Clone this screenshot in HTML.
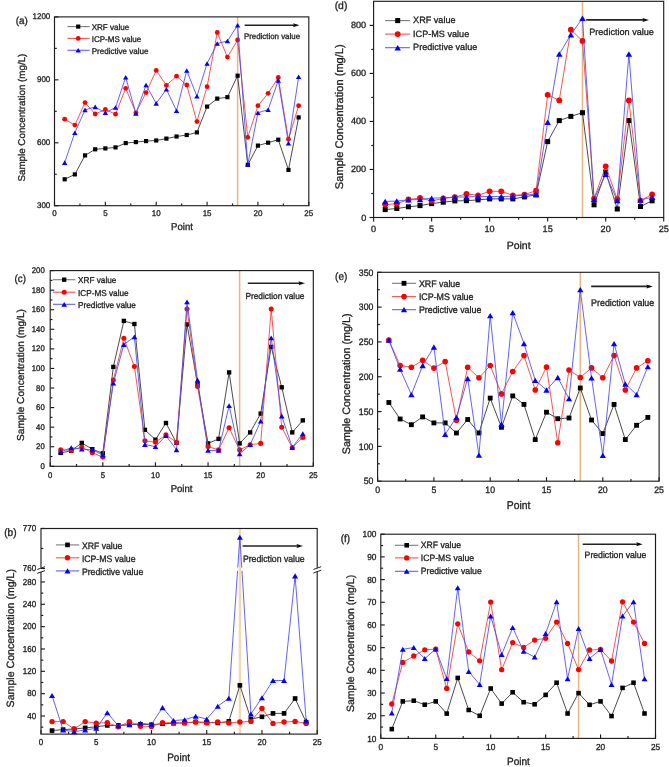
<!DOCTYPE html>
<html><head><meta charset="utf-8"><style>html,body{margin:0;padding:0;background:#fff;width:669px;height:767px;overflow:hidden}text{font-family:"Liberation Sans", sans-serif;text-rendering:geometricPrecision}</style></head>
<body>
<svg width="669" height="767" viewBox="0 0 669 767" style="position:absolute;left:0;top:0;font-family:&quot;Liberation Sans&quot;, sans-serif">
<defs><filter id="soft" x="0" y="0" width="669" height="767" filterUnits="userSpaceOnUse"><feGaussianBlur stdDeviation="0.35"/></filter></defs>
<rect width="669" height="767" fill="#fff"/>
<g filter="url(#soft)">
<line x1="237.6" y1="16.9" x2="237.6" y2="205.7" stroke="#e8b584" stroke-width="1.5"/>
<polyline points="64.67,179.3 74.84,174.4 85.02,155.4 95.19,149.3 105.36,148.4 115.53,147.4 125.7,143.1 135.88,142.1 146.05,141.1 156.22,140.5 166.39,138.6 176.56,136.5 186.74,135 196.91,132.4 207.08,106.6 217.25,98.6 227.42,97.2 237.6,75.7 247.77,164.8 257.94,145.6 268.11,142.7 278.28,139.7 288.46,169.9 298.63,117.4" fill="none" stroke="#2a2a2a" stroke-width="0.85" stroke-linejoin="round"/>
<rect x="62.58" y="177.21" width="4.18" height="4.18" fill="#000"/>
<rect x="72.75" y="172.31" width="4.18" height="4.18" fill="#000"/>
<rect x="82.93" y="153.31" width="4.18" height="4.18" fill="#000"/>
<rect x="93.1" y="147.21" width="4.18" height="4.18" fill="#000"/>
<rect x="103.27" y="146.31" width="4.18" height="4.18" fill="#000"/>
<rect x="113.44" y="145.31" width="4.18" height="4.18" fill="#000"/>
<rect x="123.61" y="141.01" width="4.18" height="4.18" fill="#000"/>
<rect x="133.79" y="140.01" width="4.18" height="4.18" fill="#000"/>
<rect x="143.96" y="139.01" width="4.18" height="4.18" fill="#000"/>
<rect x="154.13" y="138.41" width="4.18" height="4.18" fill="#000"/>
<rect x="164.3" y="136.51" width="4.18" height="4.18" fill="#000"/>
<rect x="174.47" y="134.41" width="4.18" height="4.18" fill="#000"/>
<rect x="184.65" y="132.91" width="4.18" height="4.18" fill="#000"/>
<rect x="194.82" y="130.31" width="4.18" height="4.18" fill="#000"/>
<rect x="204.99" y="104.51" width="4.18" height="4.18" fill="#000"/>
<rect x="215.16" y="96.51" width="4.18" height="4.18" fill="#000"/>
<rect x="225.33" y="95.11" width="4.18" height="4.18" fill="#000"/>
<rect x="235.51" y="73.61" width="4.18" height="4.18" fill="#000"/>
<rect x="245.68" y="162.71" width="4.18" height="4.18" fill="#000"/>
<rect x="255.85" y="143.51" width="4.18" height="4.18" fill="#000"/>
<rect x="266.02" y="140.61" width="4.18" height="4.18" fill="#000"/>
<rect x="276.19" y="137.61" width="4.18" height="4.18" fill="#000"/>
<rect x="286.37" y="167.81" width="4.18" height="4.18" fill="#000"/>
<rect x="296.54" y="115.31" width="4.18" height="4.18" fill="#000"/>
<polyline points="64.67,119.2 74.84,125.1 85.02,102.6 95.19,114 105.36,109.5 115.53,114.2 125.7,88.3 135.88,112.8 146.05,92.6 156.22,70.4 166.39,85.4 176.56,76.2 186.74,85 196.91,121.6 207.08,86.7 217.25,32.5 227.42,57.1 237.6,40 247.77,137.3 257.94,105.7 268.11,93.3 278.28,77.5 288.46,139.2 298.63,105.7" fill="none" stroke="#f03a3a" stroke-width="0.85" stroke-linejoin="round"/>
<circle cx="64.67" cy="119.2" r="2.42" fill="#f00"/>
<circle cx="74.84" cy="125.1" r="2.42" fill="#f00"/>
<circle cx="85.02" cy="102.6" r="2.42" fill="#f00"/>
<circle cx="95.19" cy="114" r="2.42" fill="#f00"/>
<circle cx="105.36" cy="109.5" r="2.42" fill="#f00"/>
<circle cx="115.53" cy="114.2" r="2.42" fill="#f00"/>
<circle cx="125.7" cy="88.3" r="2.42" fill="#f00"/>
<circle cx="135.88" cy="112.8" r="2.42" fill="#f00"/>
<circle cx="146.05" cy="92.6" r="2.42" fill="#f00"/>
<circle cx="156.22" cy="70.4" r="2.42" fill="#f00"/>
<circle cx="166.39" cy="85.4" r="2.42" fill="#f00"/>
<circle cx="176.56" cy="76.2" r="2.42" fill="#f00"/>
<circle cx="186.74" cy="85" r="2.42" fill="#f00"/>
<circle cx="196.91" cy="121.6" r="2.42" fill="#f00"/>
<circle cx="207.08" cy="86.7" r="2.42" fill="#f00"/>
<circle cx="217.25" cy="32.5" r="2.42" fill="#f00"/>
<circle cx="227.42" cy="57.1" r="2.42" fill="#f00"/>
<circle cx="237.6" cy="40" r="2.42" fill="#f00"/>
<circle cx="247.77" cy="137.3" r="2.42" fill="#f00"/>
<circle cx="257.94" cy="105.7" r="2.42" fill="#f00"/>
<circle cx="268.11" cy="93.3" r="2.42" fill="#f00"/>
<circle cx="278.28" cy="77.5" r="2.42" fill="#f00"/>
<circle cx="288.46" cy="139.2" r="2.42" fill="#f00"/>
<circle cx="298.63" cy="105.7" r="2.42" fill="#f00"/>
<polyline points="64.67,162.6 74.84,132.7 85.02,109.9 95.19,106.9 105.36,112.8 115.53,107.5 125.7,77.2 135.88,113.4 146.05,85 156.22,103.4 166.39,89.3 176.56,110.8 186.74,70.5 196.91,96.3 207.08,63.5 217.25,43.5 227.42,41 237.6,25.2 247.77,164.3 257.94,112.7 268.11,109.7 278.28,80.4 288.46,143.2 298.63,76.8" fill="none" stroke="#4848f2" stroke-width="0.85" stroke-linejoin="round"/>
<path d="M64.67 160.3L67.38 164.9L61.96 164.9Z" fill="#00f"/>
<path d="M74.84 130.4L77.55 135L72.13 135Z" fill="#00f"/>
<path d="M85.02 107.6L87.73 112.2L82.31 112.2Z" fill="#00f"/>
<path d="M95.19 104.6L97.9 109.2L92.48 109.2Z" fill="#00f"/>
<path d="M105.36 110.5L108.07 115.1L102.65 115.1Z" fill="#00f"/>
<path d="M115.53 105.2L118.24 109.8L112.82 109.8Z" fill="#00f"/>
<path d="M125.7 74.9L128.41 79.5L122.99 79.5Z" fill="#00f"/>
<path d="M135.88 111.1L138.59 115.7L133.17 115.7Z" fill="#00f"/>
<path d="M146.05 82.7L148.76 87.3L143.34 87.3Z" fill="#00f"/>
<path d="M156.22 101.1L158.93 105.7L153.51 105.7Z" fill="#00f"/>
<path d="M166.39 87L169.1 91.6L163.68 91.6Z" fill="#00f"/>
<path d="M176.56 108.5L179.27 113.1L173.85 113.1Z" fill="#00f"/>
<path d="M186.74 68.2L189.45 72.8L184.03 72.8Z" fill="#00f"/>
<path d="M196.91 94L199.62 98.6L194.2 98.6Z" fill="#00f"/>
<path d="M207.08 61.2L209.79 65.8L204.37 65.8Z" fill="#00f"/>
<path d="M217.25 41.2L219.96 45.8L214.54 45.8Z" fill="#00f"/>
<path d="M227.42 38.7L230.13 43.3L224.71 43.3Z" fill="#00f"/>
<path d="M237.6 22.9L240.31 27.5L234.89 27.5Z" fill="#00f"/>
<path d="M247.77 162L250.48 166.6L245.06 166.6Z" fill="#00f"/>
<path d="M257.94 110.4L260.65 115L255.23 115Z" fill="#00f"/>
<path d="M268.11 107.4L270.82 112L265.4 112Z" fill="#00f"/>
<path d="M278.28 78.1L280.99 82.7L275.57 82.7Z" fill="#00f"/>
<path d="M288.46 140.9L291.17 145.5L285.75 145.5Z" fill="#00f"/>
<path d="M298.63 74.5L301.34 79.1L295.92 79.1Z" fill="#00f"/>
<rect x="54.5" y="16.9" width="254.3" height="188.8" fill="none" stroke="#1e1e1e" stroke-width="1.15"/>
<line x1="54.5" y1="205.7" x2="54.5" y2="201.7" stroke="#1e1e1e" stroke-width="1.15"/>
<text x="54.5" y="213.4" font-size="8" text-anchor="middle" dominant-baseline="central" fill="#222" stroke="#222" stroke-width="0.3" transform="translate(54.5 213.4) scale(1 1.03) translate(-54.5 -213.4)">0</text>
<line x1="79.93" y1="205.7" x2="79.93" y2="203.4" stroke="#1e1e1e" stroke-width="1.15"/>
<line x1="105.36" y1="205.7" x2="105.36" y2="201.7" stroke="#1e1e1e" stroke-width="1.15"/>
<text x="105.36" y="213.4" font-size="8" text-anchor="middle" dominant-baseline="central" fill="#222" stroke="#222" stroke-width="0.3" transform="translate(105.36 213.4) scale(1 1.03) translate(-105.36 -213.4)">5</text>
<line x1="130.79" y1="205.7" x2="130.79" y2="203.4" stroke="#1e1e1e" stroke-width="1.15"/>
<line x1="156.22" y1="205.7" x2="156.22" y2="201.7" stroke="#1e1e1e" stroke-width="1.15"/>
<text x="156.22" y="213.4" font-size="8" text-anchor="middle" dominant-baseline="central" fill="#222" stroke="#222" stroke-width="0.3" transform="translate(156.22 213.4) scale(1 1.03) translate(-156.22 -213.4)">10</text>
<line x1="181.65" y1="205.7" x2="181.65" y2="203.4" stroke="#1e1e1e" stroke-width="1.15"/>
<line x1="207.08" y1="205.7" x2="207.08" y2="201.7" stroke="#1e1e1e" stroke-width="1.15"/>
<text x="207.08" y="213.4" font-size="8" text-anchor="middle" dominant-baseline="central" fill="#222" stroke="#222" stroke-width="0.3" transform="translate(207.08 213.4) scale(1 1.03) translate(-207.08 -213.4)">15</text>
<line x1="232.51" y1="205.7" x2="232.51" y2="203.4" stroke="#1e1e1e" stroke-width="1.15"/>
<line x1="257.94" y1="205.7" x2="257.94" y2="201.7" stroke="#1e1e1e" stroke-width="1.15"/>
<text x="257.94" y="213.4" font-size="8" text-anchor="middle" dominant-baseline="central" fill="#222" stroke="#222" stroke-width="0.3" transform="translate(257.94 213.4) scale(1 1.03) translate(-257.94 -213.4)">20</text>
<line x1="283.37" y1="205.7" x2="283.37" y2="203.4" stroke="#1e1e1e" stroke-width="1.15"/>
<line x1="308.8" y1="205.7" x2="308.8" y2="201.7" stroke="#1e1e1e" stroke-width="1.15"/>
<text x="308.8" y="213.4" font-size="8" text-anchor="middle" dominant-baseline="central" fill="#222" stroke="#222" stroke-width="0.3" transform="translate(308.8 213.4) scale(1 1.03) translate(-308.8 -213.4)">25</text>
<line x1="54.5" y1="205.7" x2="58.5" y2="205.7" stroke="#1e1e1e" stroke-width="1.15"/>
<text x="50.3" y="205.7" font-size="8" text-anchor="end" dominant-baseline="central" fill="#222" stroke="#222" stroke-width="0.3" transform="translate(50.3 205.7) scale(1 1.03) translate(-50.3 -205.7)">300</text>
<line x1="54.5" y1="142.77" x2="58.5" y2="142.77" stroke="#1e1e1e" stroke-width="1.15"/>
<text x="50.3" y="142.77" font-size="8" text-anchor="end" dominant-baseline="central" fill="#222" stroke="#222" stroke-width="0.3" transform="translate(50.3 142.77) scale(1 1.03) translate(-50.3 -142.77)">600</text>
<line x1="54.5" y1="79.83" x2="58.5" y2="79.83" stroke="#1e1e1e" stroke-width="1.15"/>
<text x="50.3" y="79.83" font-size="8" text-anchor="end" dominant-baseline="central" fill="#222" stroke="#222" stroke-width="0.3" transform="translate(50.3 79.83) scale(1 1.03) translate(-50.3 -79.83)">900</text>
<line x1="54.5" y1="16.9" x2="58.5" y2="16.9" stroke="#1e1e1e" stroke-width="1.15"/>
<text x="50.3" y="16.9" font-size="8" text-anchor="end" dominant-baseline="central" fill="#222" stroke="#222" stroke-width="0.3" transform="translate(50.3 16.9) scale(1 1.03) translate(-50.3 -16.9)">1200</text>
<line x1="54.5" y1="174.23" x2="56.8" y2="174.23" stroke="#1e1e1e" stroke-width="1.15"/>
<line x1="54.5" y1="111.3" x2="56.8" y2="111.3" stroke="#1e1e1e" stroke-width="1.15"/>
<line x1="54.5" y1="48.37" x2="56.8" y2="48.37" stroke="#1e1e1e" stroke-width="1.15"/>
<line x1="67.5" y1="26.6" x2="89.6" y2="26.6" stroke="#7a7a7a" stroke-width="1.1"/>
<rect x="76.11" y="24.51" width="4.18" height="4.18" fill="#000"/>
<text x="91.7" y="27.3" font-size="8.05" text-anchor="start" dominant-baseline="central" fill="#222" stroke="#222" stroke-width="0.3" transform="translate(91.7 27.3) scale(1 1.03) translate(-91.7 -27.3)">XRF value</text>
<line x1="67.5" y1="38.4" x2="89.6" y2="38.4" stroke="#f05555" stroke-width="1.1"/>
<circle cx="78.2" cy="38.4" r="2.42" fill="#f00"/>
<text x="91.7" y="39.1" font-size="8.05" text-anchor="start" dominant-baseline="central" fill="#222" stroke="#222" stroke-width="0.3" transform="translate(91.7 39.1) scale(1 1.03) translate(-91.7 -39.1)">ICP-MS value</text>
<line x1="67.5" y1="50.3" x2="89.6" y2="50.3" stroke="#6060f0" stroke-width="1.1"/>
<path d="M78.2 48L80.91 52.6L75.49 52.6Z" fill="#00f"/>
<text x="91.7" y="51" font-size="8.05" text-anchor="start" dominant-baseline="central" fill="#222" stroke="#222" stroke-width="0.3" transform="translate(91.7 51) scale(1 1.03) translate(-91.7 -51)">Predictive value</text>
<line x1="244.6" y1="25.2" x2="296.5" y2="25.2" stroke="#222" stroke-width="1.6"/>
<path d="M299.5 25.2L293 23.2L293.98 25.2L293 27.2Z" fill="#111"/>
<text x="243.9" y="36.75" font-size="7.9" text-anchor="start" dominant-baseline="central" fill="#222" stroke="#222" stroke-width="0.3" transform="translate(243.9 36.75) scale(1 1.03) translate(-243.9 -36.75)">Prediction value</text>
<text x="21.7" y="21.6" font-size="9.9" text-anchor="middle" dominant-baseline="central" fill="#222" stroke="#222" stroke-width="0.3" transform="translate(21.7 21.6) scale(1 1.03) translate(-21.7 -21.6)">(a)</text>
<text x="22.5" y="117.6" font-size="9.8" text-anchor="middle" dominant-baseline="central" fill="#222" stroke="#222" stroke-width="0.3" transform="rotate(-90 22.5 117.6)">Sample Concentration (mg/L)</text>
<text x="182" y="227.6" font-size="9.6" text-anchor="middle" dominant-baseline="central" fill="#222" stroke="#222" stroke-width="0.3" transform="translate(182 227.6) scale(1 1.03) translate(-182 -227.6)">Point</text>
<line x1="582.47" y1="1.3" x2="582.47" y2="217.5" stroke="#e8b584" stroke-width="1.5"/>
<polyline points="385.2,209.6 396.81,208.5 408.41,206.8 420.02,205.6 431.62,203.6 443.22,202.2 454.83,200.9 466.43,200.7 478.04,199.9 489.64,198.9 501.24,198.9 512.85,198.9 524.45,196.9 536.06,194.8 547.66,141.6 559.26,120.6 570.87,116.4 582.47,112.7 594.08,204.8 605.68,172 617.28,209 628.89,120.6 640.49,206.5 652.1,200.8" fill="none" stroke="#2a2a2a" stroke-width="0.85" stroke-linejoin="round"/>
<rect x="382.69" y="207.08" width="5.03" height="5.03" fill="#000"/>
<rect x="394.29" y="205.98" width="5.03" height="5.03" fill="#000"/>
<rect x="405.89" y="204.28" width="5.03" height="5.03" fill="#000"/>
<rect x="417.5" y="203.08" width="5.03" height="5.03" fill="#000"/>
<rect x="429.1" y="201.08" width="5.03" height="5.03" fill="#000"/>
<rect x="440.71" y="199.68" width="5.03" height="5.03" fill="#000"/>
<rect x="452.31" y="198.38" width="5.03" height="5.03" fill="#000"/>
<rect x="463.91" y="198.18" width="5.03" height="5.03" fill="#000"/>
<rect x="475.52" y="197.38" width="5.03" height="5.03" fill="#000"/>
<rect x="487.12" y="196.38" width="5.03" height="5.03" fill="#000"/>
<rect x="498.73" y="196.38" width="5.03" height="5.03" fill="#000"/>
<rect x="510.33" y="196.38" width="5.03" height="5.03" fill="#000"/>
<rect x="521.93" y="194.38" width="5.03" height="5.03" fill="#000"/>
<rect x="533.54" y="192.28" width="5.03" height="5.03" fill="#000"/>
<rect x="545.14" y="139.08" width="5.03" height="5.03" fill="#000"/>
<rect x="556.75" y="118.08" width="5.03" height="5.03" fill="#000"/>
<rect x="568.35" y="113.88" width="5.03" height="5.03" fill="#000"/>
<rect x="579.95" y="110.18" width="5.03" height="5.03" fill="#000"/>
<rect x="591.56" y="202.28" width="5.03" height="5.03" fill="#000"/>
<rect x="603.16" y="169.48" width="5.03" height="5.03" fill="#000"/>
<rect x="614.77" y="206.48" width="5.03" height="5.03" fill="#000"/>
<rect x="626.37" y="118.08" width="5.03" height="5.03" fill="#000"/>
<rect x="637.97" y="203.98" width="5.03" height="5.03" fill="#000"/>
<rect x="649.58" y="198.28" width="5.03" height="5.03" fill="#000"/>
<polyline points="385.2,204.5 396.81,203.8 408.41,199.5 420.02,198 431.62,200.9 443.22,198.5 454.83,197.1 466.43,193.9 478.04,195.3 489.64,191.3 501.24,191.3 512.85,195.3 524.45,194.6 536.06,190.7 547.66,94.8 559.26,100.4 570.87,29.7 582.47,40.9 594.08,198.6 605.68,166.3 617.28,199.2 628.89,100.4 640.49,200.6 652.1,194.4" fill="none" stroke="#f03a3a" stroke-width="0.85" stroke-linejoin="round"/>
<circle cx="385.2" cy="204.5" r="2.92" fill="#f00"/>
<circle cx="396.81" cy="203.8" r="2.92" fill="#f00"/>
<circle cx="408.41" cy="199.5" r="2.92" fill="#f00"/>
<circle cx="420.02" cy="198" r="2.92" fill="#f00"/>
<circle cx="431.62" cy="200.9" r="2.92" fill="#f00"/>
<circle cx="443.22" cy="198.5" r="2.92" fill="#f00"/>
<circle cx="454.83" cy="197.1" r="2.92" fill="#f00"/>
<circle cx="466.43" cy="193.9" r="2.92" fill="#f00"/>
<circle cx="478.04" cy="195.3" r="2.92" fill="#f00"/>
<circle cx="489.64" cy="191.3" r="2.92" fill="#f00"/>
<circle cx="501.24" cy="191.3" r="2.92" fill="#f00"/>
<circle cx="512.85" cy="195.3" r="2.92" fill="#f00"/>
<circle cx="524.45" cy="194.6" r="2.92" fill="#f00"/>
<circle cx="536.06" cy="190.7" r="2.92" fill="#f00"/>
<circle cx="547.66" cy="94.8" r="2.92" fill="#f00"/>
<circle cx="559.26" cy="100.4" r="2.92" fill="#f00"/>
<circle cx="570.87" cy="29.7" r="2.92" fill="#f00"/>
<circle cx="582.47" cy="40.9" r="2.92" fill="#f00"/>
<circle cx="594.08" cy="198.6" r="2.92" fill="#f00"/>
<circle cx="605.68" cy="166.3" r="2.92" fill="#f00"/>
<circle cx="617.28" cy="199.2" r="2.92" fill="#f00"/>
<circle cx="628.89" cy="100.4" r="2.92" fill="#f00"/>
<circle cx="640.49" cy="200.6" r="2.92" fill="#f00"/>
<circle cx="652.1" cy="194.4" r="2.92" fill="#f00"/>
<polyline points="385.2,201.4 396.81,201.1 408.41,199.8 420.02,199.5 431.62,198.2 443.22,197.8 454.83,197.1 466.43,196.9 478.04,196.6 489.64,196.6 501.24,196.6 512.85,196.2 524.45,194.9 536.06,194.4 547.66,122.3 559.26,54.1 570.87,34.7 582.47,18.2 594.08,199.2 605.68,174.2 617.28,200.6 628.89,54.1 640.49,200 652.1,197.2" fill="none" stroke="#4848f2" stroke-width="0.85" stroke-linejoin="round"/>
<path d="M385.2 198.63L388.47 204.17L381.94 204.17Z" fill="#00f"/>
<path d="M396.81 198.33L400.07 203.87L393.54 203.87Z" fill="#00f"/>
<path d="M408.41 197.03L411.68 202.57L405.15 202.57Z" fill="#00f"/>
<path d="M420.02 196.73L423.28 202.27L416.75 202.27Z" fill="#00f"/>
<path d="M431.62 195.43L434.88 200.97L428.36 200.97Z" fill="#00f"/>
<path d="M443.22 195.03L446.49 200.57L439.96 200.57Z" fill="#00f"/>
<path d="M454.83 194.33L458.09 199.87L451.56 199.87Z" fill="#00f"/>
<path d="M466.43 194.13L469.7 199.67L463.17 199.67Z" fill="#00f"/>
<path d="M478.04 193.83L481.3 199.37L474.77 199.37Z" fill="#00f"/>
<path d="M489.64 193.83L492.9 199.37L486.38 199.37Z" fill="#00f"/>
<path d="M501.24 193.83L504.51 199.37L497.98 199.37Z" fill="#00f"/>
<path d="M512.85 193.43L516.11 198.97L509.58 198.97Z" fill="#00f"/>
<path d="M524.45 192.13L527.72 197.67L521.19 197.67Z" fill="#00f"/>
<path d="M536.06 191.63L539.32 197.17L532.79 197.17Z" fill="#00f"/>
<path d="M547.66 119.53L550.92 125.07L544.4 125.07Z" fill="#00f"/>
<path d="M559.26 51.33L562.53 56.87L556 56.87Z" fill="#00f"/>
<path d="M570.87 31.93L574.13 37.47L567.6 37.47Z" fill="#00f"/>
<path d="M582.47 15.43L585.74 20.97L579.21 20.97Z" fill="#00f"/>
<path d="M594.08 196.43L597.34 201.97L590.81 201.97Z" fill="#00f"/>
<path d="M605.68 171.43L608.94 176.97L602.42 176.97Z" fill="#00f"/>
<path d="M617.28 197.83L620.55 203.37L614.02 203.37Z" fill="#00f"/>
<path d="M628.89 51.33L632.15 56.87L625.62 56.87Z" fill="#00f"/>
<path d="M640.49 197.23L643.76 202.77L637.23 202.77Z" fill="#00f"/>
<path d="M652.1 194.43L655.36 199.97L648.83 199.97Z" fill="#00f"/>
<rect x="373.6" y="1.3" width="290.1" height="216.2" fill="none" stroke="#1e1e1e" stroke-width="1.15"/>
<line x1="373.6" y1="217.5" x2="373.6" y2="221.5" stroke="#1e1e1e" stroke-width="1.15"/>
<text x="373.6" y="229" font-size="9.1" text-anchor="middle" dominant-baseline="central" fill="#222" stroke="#222" stroke-width="0.3" transform="translate(373.6 229) scale(1 1.0) translate(-373.6 -229)">0</text>
<line x1="402.61" y1="217.5" x2="402.61" y2="219.8" stroke="#1e1e1e" stroke-width="1.15"/>
<line x1="431.62" y1="217.5" x2="431.62" y2="221.5" stroke="#1e1e1e" stroke-width="1.15"/>
<text x="431.62" y="229" font-size="9.1" text-anchor="middle" dominant-baseline="central" fill="#222" stroke="#222" stroke-width="0.3" transform="translate(431.62 229) scale(1 1.0) translate(-431.62 -229)">5</text>
<line x1="460.63" y1="217.5" x2="460.63" y2="219.8" stroke="#1e1e1e" stroke-width="1.15"/>
<line x1="489.64" y1="217.5" x2="489.64" y2="221.5" stroke="#1e1e1e" stroke-width="1.15"/>
<text x="489.64" y="229" font-size="9.1" text-anchor="middle" dominant-baseline="central" fill="#222" stroke="#222" stroke-width="0.3" transform="translate(489.64 229) scale(1 1.0) translate(-489.64 -229)">10</text>
<line x1="518.65" y1="217.5" x2="518.65" y2="219.8" stroke="#1e1e1e" stroke-width="1.15"/>
<line x1="547.66" y1="217.5" x2="547.66" y2="221.5" stroke="#1e1e1e" stroke-width="1.15"/>
<text x="547.66" y="229" font-size="9.1" text-anchor="middle" dominant-baseline="central" fill="#222" stroke="#222" stroke-width="0.3" transform="translate(547.66 229) scale(1 1.0) translate(-547.66 -229)">15</text>
<line x1="576.67" y1="217.5" x2="576.67" y2="219.8" stroke="#1e1e1e" stroke-width="1.15"/>
<line x1="605.68" y1="217.5" x2="605.68" y2="221.5" stroke="#1e1e1e" stroke-width="1.15"/>
<text x="605.68" y="229" font-size="9.1" text-anchor="middle" dominant-baseline="central" fill="#222" stroke="#222" stroke-width="0.3" transform="translate(605.68 229) scale(1 1.0) translate(-605.68 -229)">20</text>
<line x1="634.69" y1="217.5" x2="634.69" y2="219.8" stroke="#1e1e1e" stroke-width="1.15"/>
<line x1="663.7" y1="217.5" x2="663.7" y2="221.5" stroke="#1e1e1e" stroke-width="1.15"/>
<text x="663.7" y="229" font-size="9.1" text-anchor="middle" dominant-baseline="central" fill="#222" stroke="#222" stroke-width="0.3" transform="translate(663.7 229) scale(1 1.0) translate(-663.7 -229)">25</text>
<line x1="373.6" y1="217.5" x2="369.6" y2="217.5" stroke="#1e1e1e" stroke-width="1.15"/>
<text x="366.2" y="217.5" font-size="9.1" text-anchor="end" dominant-baseline="central" fill="#222" stroke="#222" stroke-width="0.3" transform="translate(366.2 217.5) scale(1 1.0) translate(-366.2 -217.5)">0</text>
<line x1="373.6" y1="169.48" x2="369.6" y2="169.48" stroke="#1e1e1e" stroke-width="1.15"/>
<text x="366.2" y="169.48" font-size="9.1" text-anchor="end" dominant-baseline="central" fill="#222" stroke="#222" stroke-width="0.3" transform="translate(366.2 169.48) scale(1 1.0) translate(-366.2 -169.48)">200</text>
<line x1="373.6" y1="121.46" x2="369.6" y2="121.46" stroke="#1e1e1e" stroke-width="1.15"/>
<text x="366.2" y="121.46" font-size="9.1" text-anchor="end" dominant-baseline="central" fill="#222" stroke="#222" stroke-width="0.3" transform="translate(366.2 121.46) scale(1 1.0) translate(-366.2 -121.46)">400</text>
<line x1="373.6" y1="73.44" x2="369.6" y2="73.44" stroke="#1e1e1e" stroke-width="1.15"/>
<text x="366.2" y="73.44" font-size="9.1" text-anchor="end" dominant-baseline="central" fill="#222" stroke="#222" stroke-width="0.3" transform="translate(366.2 73.44) scale(1 1.0) translate(-366.2 -73.44)">600</text>
<line x1="373.6" y1="25.42" x2="369.6" y2="25.42" stroke="#1e1e1e" stroke-width="1.15"/>
<text x="366.2" y="25.42" font-size="9.1" text-anchor="end" dominant-baseline="central" fill="#222" stroke="#222" stroke-width="0.3" transform="translate(366.2 25.42) scale(1 1.0) translate(-366.2 -25.42)">800</text>
<line x1="373.6" y1="193.49" x2="371.3" y2="193.49" stroke="#1e1e1e" stroke-width="1.15"/>
<line x1="373.6" y1="145.47" x2="371.3" y2="145.47" stroke="#1e1e1e" stroke-width="1.15"/>
<line x1="373.6" y1="97.45" x2="371.3" y2="97.45" stroke="#1e1e1e" stroke-width="1.15"/>
<line x1="373.6" y1="49.43" x2="371.3" y2="49.43" stroke="#1e1e1e" stroke-width="1.15"/>
<line x1="385.1" y1="20.6" x2="409.9" y2="20.6" stroke="#7a7a7a" stroke-width="1.1"/>
<rect x="395.18" y="18.08" width="5.03" height="5.03" fill="#000"/>
<text x="413.1" y="20.1" font-size="9.1" text-anchor="start" dominant-baseline="central" fill="#222" stroke="#222" stroke-width="0.3" transform="translate(413.1 20.1) scale(1 1.0) translate(-413.1 -20.1)">XRF value</text>
<line x1="385.1" y1="34.1" x2="409.9" y2="34.1" stroke="#f05555" stroke-width="1.1"/>
<circle cx="397.7" cy="34.1" r="2.92" fill="#f00"/>
<text x="413.1" y="33.6" font-size="9.1" text-anchor="start" dominant-baseline="central" fill="#222" stroke="#222" stroke-width="0.3" transform="translate(413.1 33.6) scale(1 1.0) translate(-413.1 -33.6)">ICP-MS value</text>
<line x1="385.1" y1="47.7" x2="409.9" y2="47.7" stroke="#6060f0" stroke-width="1.1"/>
<path d="M397.7 44.93L400.96 50.47L394.44 50.47Z" fill="#00f"/>
<text x="413.1" y="47.2" font-size="9.1" text-anchor="start" dominant-baseline="central" fill="#222" stroke="#222" stroke-width="0.3" transform="translate(413.1 47.2) scale(1 1.0) translate(-413.1 -47.2)">Predictive value</text>
<line x1="586.2" y1="19.9" x2="646" y2="19.9" stroke="#222" stroke-width="1.6"/>
<path d="M649 19.9L642.5 17.9L643.48 19.9L642.5 21.9Z" fill="#111"/>
<text x="589.2" y="31.55" font-size="9.1" text-anchor="start" dominant-baseline="central" fill="#222" stroke="#222" stroke-width="0.3" transform="translate(589.2 31.55) scale(1 1.0) translate(-589.2 -31.55)">Prediction value</text>
<text x="341" y="6.25" font-size="10.4" text-anchor="middle" dominant-baseline="central" fill="#222" stroke="#222" stroke-width="0.3" transform="translate(341 6.25) scale(1 1.0) translate(-341 -6.25)">(d)</text>
<text x="340.2" y="116.7" font-size="11.1" text-anchor="middle" dominant-baseline="central" fill="#222" stroke="#222" stroke-width="0.3" transform="rotate(-90 340.2 116.7)">Sample Concentration (mg/L)</text>
<text x="518.6" y="245.8" font-size="10.5" text-anchor="middle" dominant-baseline="central" fill="#222" stroke="#222" stroke-width="0.3" transform="translate(518.6 245.8) scale(1 1.0) translate(-518.6 -245.8)">Point</text>
<line x1="239.63" y1="270.6" x2="239.63" y2="466.3" stroke="#e8b584" stroke-width="1.5"/>
<polyline points="60.72,452.9 71.25,450.8 81.77,442.9 92.3,449.2 102.82,453.3 113.34,366.9 123.87,320.9 134.39,324 144.92,429.9 155.44,439.7 165.96,423 176.49,442.9 187.01,324.4 197.54,383.9 208.06,443.4 218.58,438.9 229.11,372.4 239.63,443.4 250.16,432.4 260.68,413.6 271.2,346.9 281.73,387.3 292.25,432.4 302.78,420.4" fill="none" stroke="#2a2a2a" stroke-width="0.85" stroke-linejoin="round"/>
<rect x="58.54" y="450.71" width="4.37" height="4.37" fill="#000"/>
<rect x="69.06" y="448.62" width="4.37" height="4.37" fill="#000"/>
<rect x="79.59" y="440.71" width="4.37" height="4.37" fill="#000"/>
<rect x="90.11" y="447.01" width="4.37" height="4.37" fill="#000"/>
<rect x="100.64" y="451.12" width="4.37" height="4.37" fill="#000"/>
<rect x="111.16" y="364.71" width="4.37" height="4.37" fill="#000"/>
<rect x="121.68" y="318.71" width="4.37" height="4.37" fill="#000"/>
<rect x="132.21" y="321.81" width="4.37" height="4.37" fill="#000"/>
<rect x="142.73" y="427.71" width="4.37" height="4.37" fill="#000"/>
<rect x="153.25" y="437.51" width="4.37" height="4.37" fill="#000"/>
<rect x="163.78" y="420.81" width="4.37" height="4.37" fill="#000"/>
<rect x="174.3" y="440.71" width="4.37" height="4.37" fill="#000"/>
<rect x="184.83" y="322.21" width="4.37" height="4.37" fill="#000"/>
<rect x="195.35" y="381.71" width="4.37" height="4.37" fill="#000"/>
<rect x="205.88" y="441.21" width="4.37" height="4.37" fill="#000"/>
<rect x="216.4" y="436.71" width="4.37" height="4.37" fill="#000"/>
<rect x="226.92" y="370.21" width="4.37" height="4.37" fill="#000"/>
<rect x="237.45" y="441.21" width="4.37" height="4.37" fill="#000"/>
<rect x="247.97" y="430.21" width="4.37" height="4.37" fill="#000"/>
<rect x="258.5" y="411.42" width="4.37" height="4.37" fill="#000"/>
<rect x="269.02" y="344.71" width="4.37" height="4.37" fill="#000"/>
<rect x="279.54" y="385.12" width="4.37" height="4.37" fill="#000"/>
<rect x="290.07" y="430.21" width="4.37" height="4.37" fill="#000"/>
<rect x="300.59" y="418.21" width="4.37" height="4.37" fill="#000"/>
<polyline points="60.72,449.8 71.25,450.2 81.77,447.1 92.3,452.7 102.82,457.1 113.34,380.1 123.87,338.2 134.39,366.5 144.92,440.8 155.44,442.2 165.96,434.9 176.49,442.2 187.01,309.1 197.54,386.5 208.06,446.5 218.58,449.9 229.11,427.7 239.63,449.9 250.16,444.7 260.68,443.4 271.2,309.1 281.73,427.2 292.25,447.8 302.78,437.4" fill="none" stroke="#f03a3a" stroke-width="0.85" stroke-linejoin="round"/>
<circle cx="60.72" cy="449.8" r="2.53" fill="#f00"/>
<circle cx="71.25" cy="450.2" r="2.53" fill="#f00"/>
<circle cx="81.77" cy="447.1" r="2.53" fill="#f00"/>
<circle cx="92.3" cy="452.7" r="2.53" fill="#f00"/>
<circle cx="102.82" cy="457.1" r="2.53" fill="#f00"/>
<circle cx="113.34" cy="380.1" r="2.53" fill="#f00"/>
<circle cx="123.87" cy="338.2" r="2.53" fill="#f00"/>
<circle cx="134.39" cy="366.5" r="2.53" fill="#f00"/>
<circle cx="144.92" cy="440.8" r="2.53" fill="#f00"/>
<circle cx="155.44" cy="442.2" r="2.53" fill="#f00"/>
<circle cx="165.96" cy="434.9" r="2.53" fill="#f00"/>
<circle cx="176.49" cy="442.2" r="2.53" fill="#f00"/>
<circle cx="187.01" cy="309.1" r="2.53" fill="#f00"/>
<circle cx="197.54" cy="386.5" r="2.53" fill="#f00"/>
<circle cx="208.06" cy="446.5" r="2.53" fill="#f00"/>
<circle cx="218.58" cy="449.9" r="2.53" fill="#f00"/>
<circle cx="229.11" cy="427.7" r="2.53" fill="#f00"/>
<circle cx="239.63" cy="449.9" r="2.53" fill="#f00"/>
<circle cx="250.16" cy="444.7" r="2.53" fill="#f00"/>
<circle cx="260.68" cy="443.4" r="2.53" fill="#f00"/>
<circle cx="271.2" cy="309.1" r="2.53" fill="#f00"/>
<circle cx="281.73" cy="427.2" r="2.53" fill="#f00"/>
<circle cx="292.25" cy="447.8" r="2.53" fill="#f00"/>
<circle cx="302.78" cy="437.4" r="2.53" fill="#f00"/>
<polyline points="60.72,451.9 71.25,447.7 81.77,449.2 92.3,449.8 102.82,454.8 113.34,383.2 123.87,344.5 134.39,336.8 144.92,444.5 155.44,446.6 165.96,435.6 176.49,449.8 187.01,301.8 197.54,380 208.06,450.4 218.58,450.4 229.11,405.6 239.63,453.8 250.16,444.7 260.68,421.2 271.2,337.8 281.73,416 292.25,447.3 302.78,433.7" fill="none" stroke="#4848f2" stroke-width="0.85" stroke-linejoin="round"/>
<path d="M60.72 449.5L63.56 454.3L57.89 454.3Z" fill="#00f"/>
<path d="M71.25 445.3L74.08 450.1L68.41 450.1Z" fill="#00f"/>
<path d="M81.77 446.8L84.61 451.6L78.94 451.6Z" fill="#00f"/>
<path d="M92.3 447.4L95.13 452.2L89.46 452.2Z" fill="#00f"/>
<path d="M102.82 452.4L105.65 457.2L99.99 457.2Z" fill="#00f"/>
<path d="M113.34 380.8L116.18 385.6L110.51 385.6Z" fill="#00f"/>
<path d="M123.87 342.1L126.7 346.9L121.03 346.9Z" fill="#00f"/>
<path d="M134.39 334.4L137.23 339.2L131.56 339.2Z" fill="#00f"/>
<path d="M144.92 442.1L147.75 446.9L142.08 446.9Z" fill="#00f"/>
<path d="M155.44 444.2L158.27 449L152.61 449Z" fill="#00f"/>
<path d="M165.96 433.2L168.8 438L163.13 438Z" fill="#00f"/>
<path d="M176.49 447.4L179.32 452.2L173.65 452.2Z" fill="#00f"/>
<path d="M187.01 299.4L189.85 304.2L184.18 304.2Z" fill="#00f"/>
<path d="M197.54 377.6L200.37 382.4L194.7 382.4Z" fill="#00f"/>
<path d="M208.06 448L210.89 452.8L205.23 452.8Z" fill="#00f"/>
<path d="M218.58 448L221.42 452.8L215.75 452.8Z" fill="#00f"/>
<path d="M229.11 403.2L231.94 408L226.27 408Z" fill="#00f"/>
<path d="M239.63 451.4L242.47 456.2L236.8 456.2Z" fill="#00f"/>
<path d="M250.16 442.3L252.99 447.1L247.32 447.1Z" fill="#00f"/>
<path d="M260.68 418.8L263.51 423.6L257.85 423.6Z" fill="#00f"/>
<path d="M271.2 335.4L274.04 340.2L268.37 340.2Z" fill="#00f"/>
<path d="M281.73 413.6L284.56 418.4L278.89 418.4Z" fill="#00f"/>
<path d="M292.25 444.9L295.09 449.7L289.42 449.7Z" fill="#00f"/>
<path d="M302.78 431.3L305.61 436.1L299.94 436.1Z" fill="#00f"/>
<rect x="50.2" y="270.6" width="263.1" height="195.7" fill="none" stroke="#1e1e1e" stroke-width="1.15"/>
<line x1="50.2" y1="466.3" x2="50.2" y2="462.3" stroke="#1e1e1e" stroke-width="1.15"/>
<text x="50.2" y="475.1" font-size="7.8" text-anchor="middle" dominant-baseline="central" fill="#222" stroke="#222" stroke-width="0.3" transform="translate(50.2 475.1) scale(1 1.05) translate(-50.2 -475.1)">0</text>
<line x1="76.51" y1="466.3" x2="76.51" y2="464" stroke="#1e1e1e" stroke-width="1.15"/>
<line x1="102.82" y1="466.3" x2="102.82" y2="462.3" stroke="#1e1e1e" stroke-width="1.15"/>
<text x="102.82" y="475.1" font-size="7.8" text-anchor="middle" dominant-baseline="central" fill="#222" stroke="#222" stroke-width="0.3" transform="translate(102.82 475.1) scale(1 1.05) translate(-102.82 -475.1)">5</text>
<line x1="129.13" y1="466.3" x2="129.13" y2="464" stroke="#1e1e1e" stroke-width="1.15"/>
<line x1="155.44" y1="466.3" x2="155.44" y2="462.3" stroke="#1e1e1e" stroke-width="1.15"/>
<text x="155.44" y="475.1" font-size="7.8" text-anchor="middle" dominant-baseline="central" fill="#222" stroke="#222" stroke-width="0.3" transform="translate(155.44 475.1) scale(1 1.05) translate(-155.44 -475.1)">10</text>
<line x1="181.75" y1="466.3" x2="181.75" y2="464" stroke="#1e1e1e" stroke-width="1.15"/>
<line x1="208.06" y1="466.3" x2="208.06" y2="462.3" stroke="#1e1e1e" stroke-width="1.15"/>
<text x="208.06" y="475.1" font-size="7.8" text-anchor="middle" dominant-baseline="central" fill="#222" stroke="#222" stroke-width="0.3" transform="translate(208.06 475.1) scale(1 1.05) translate(-208.06 -475.1)">15</text>
<line x1="234.37" y1="466.3" x2="234.37" y2="464" stroke="#1e1e1e" stroke-width="1.15"/>
<line x1="260.68" y1="466.3" x2="260.68" y2="462.3" stroke="#1e1e1e" stroke-width="1.15"/>
<text x="260.68" y="475.1" font-size="7.8" text-anchor="middle" dominant-baseline="central" fill="#222" stroke="#222" stroke-width="0.3" transform="translate(260.68 475.1) scale(1 1.05) translate(-260.68 -475.1)">20</text>
<line x1="286.99" y1="466.3" x2="286.99" y2="464" stroke="#1e1e1e" stroke-width="1.15"/>
<line x1="313.3" y1="466.3" x2="313.3" y2="462.3" stroke="#1e1e1e" stroke-width="1.15"/>
<text x="313.3" y="475.1" font-size="7.8" text-anchor="middle" dominant-baseline="central" fill="#222" stroke="#222" stroke-width="0.3" transform="translate(313.3 475.1) scale(1 1.05) translate(-313.3 -475.1)">25</text>
<line x1="50.2" y1="466.3" x2="54.2" y2="466.3" stroke="#1e1e1e" stroke-width="1.15"/>
<text x="44.8" y="466.3" font-size="7.8" text-anchor="end" dominant-baseline="central" fill="#222" stroke="#222" stroke-width="0.3" transform="translate(44.8 466.3) scale(1 1.05) translate(-44.8 -466.3)">0</text>
<line x1="50.2" y1="446.73" x2="54.2" y2="446.73" stroke="#1e1e1e" stroke-width="1.15"/>
<text x="44.8" y="446.73" font-size="7.8" text-anchor="end" dominant-baseline="central" fill="#222" stroke="#222" stroke-width="0.3" transform="translate(44.8 446.73) scale(1 1.05) translate(-44.8 -446.73)">20</text>
<line x1="50.2" y1="427.16" x2="54.2" y2="427.16" stroke="#1e1e1e" stroke-width="1.15"/>
<text x="44.8" y="427.16" font-size="7.8" text-anchor="end" dominant-baseline="central" fill="#222" stroke="#222" stroke-width="0.3" transform="translate(44.8 427.16) scale(1 1.05) translate(-44.8 -427.16)">40</text>
<line x1="50.2" y1="407.59" x2="54.2" y2="407.59" stroke="#1e1e1e" stroke-width="1.15"/>
<text x="44.8" y="407.59" font-size="7.8" text-anchor="end" dominant-baseline="central" fill="#222" stroke="#222" stroke-width="0.3" transform="translate(44.8 407.59) scale(1 1.05) translate(-44.8 -407.59)">60</text>
<line x1="50.2" y1="388.02" x2="54.2" y2="388.02" stroke="#1e1e1e" stroke-width="1.15"/>
<text x="44.8" y="388.02" font-size="7.8" text-anchor="end" dominant-baseline="central" fill="#222" stroke="#222" stroke-width="0.3" transform="translate(44.8 388.02) scale(1 1.05) translate(-44.8 -388.02)">80</text>
<line x1="50.2" y1="368.45" x2="54.2" y2="368.45" stroke="#1e1e1e" stroke-width="1.15"/>
<text x="44.8" y="368.45" font-size="7.8" text-anchor="end" dominant-baseline="central" fill="#222" stroke="#222" stroke-width="0.3" transform="translate(44.8 368.45) scale(1 1.05) translate(-44.8 -368.45)">100</text>
<line x1="50.2" y1="348.88" x2="54.2" y2="348.88" stroke="#1e1e1e" stroke-width="1.15"/>
<text x="44.8" y="348.88" font-size="7.8" text-anchor="end" dominant-baseline="central" fill="#222" stroke="#222" stroke-width="0.3" transform="translate(44.8 348.88) scale(1 1.05) translate(-44.8 -348.88)">120</text>
<line x1="50.2" y1="329.31" x2="54.2" y2="329.31" stroke="#1e1e1e" stroke-width="1.15"/>
<text x="44.8" y="329.31" font-size="7.8" text-anchor="end" dominant-baseline="central" fill="#222" stroke="#222" stroke-width="0.3" transform="translate(44.8 329.31) scale(1 1.05) translate(-44.8 -329.31)">140</text>
<line x1="50.2" y1="309.74" x2="54.2" y2="309.74" stroke="#1e1e1e" stroke-width="1.15"/>
<text x="44.8" y="309.74" font-size="7.8" text-anchor="end" dominant-baseline="central" fill="#222" stroke="#222" stroke-width="0.3" transform="translate(44.8 309.74) scale(1 1.05) translate(-44.8 -309.74)">160</text>
<line x1="50.2" y1="290.17" x2="54.2" y2="290.17" stroke="#1e1e1e" stroke-width="1.15"/>
<text x="44.8" y="290.17" font-size="7.8" text-anchor="end" dominant-baseline="central" fill="#222" stroke="#222" stroke-width="0.3" transform="translate(44.8 290.17) scale(1 1.05) translate(-44.8 -290.17)">180</text>
<line x1="50.2" y1="270.6" x2="54.2" y2="270.6" stroke="#1e1e1e" stroke-width="1.15"/>
<text x="44.8" y="270.6" font-size="7.8" text-anchor="end" dominant-baseline="central" fill="#222" stroke="#222" stroke-width="0.3" transform="translate(44.8 270.6) scale(1 1.05) translate(-44.8 -270.6)">200</text>
<line x1="50.2" y1="456.51" x2="52.5" y2="456.51" stroke="#1e1e1e" stroke-width="1.15"/>
<line x1="50.2" y1="436.94" x2="52.5" y2="436.94" stroke="#1e1e1e" stroke-width="1.15"/>
<line x1="50.2" y1="417.38" x2="52.5" y2="417.38" stroke="#1e1e1e" stroke-width="1.15"/>
<line x1="50.2" y1="397.81" x2="52.5" y2="397.81" stroke="#1e1e1e" stroke-width="1.15"/>
<line x1="50.2" y1="378.24" x2="52.5" y2="378.24" stroke="#1e1e1e" stroke-width="1.15"/>
<line x1="50.2" y1="358.67" x2="52.5" y2="358.67" stroke="#1e1e1e" stroke-width="1.15"/>
<line x1="50.2" y1="339.1" x2="52.5" y2="339.1" stroke="#1e1e1e" stroke-width="1.15"/>
<line x1="50.2" y1="319.52" x2="52.5" y2="319.52" stroke="#1e1e1e" stroke-width="1.15"/>
<line x1="50.2" y1="299.96" x2="52.5" y2="299.96" stroke="#1e1e1e" stroke-width="1.15"/>
<line x1="50.2" y1="280.38" x2="52.5" y2="280.38" stroke="#1e1e1e" stroke-width="1.15"/>
<line x1="53" y1="279.7" x2="75.4" y2="279.7" stroke="#7a7a7a" stroke-width="1.1"/>
<rect x="62.02" y="277.51" width="4.37" height="4.37" fill="#000"/>
<text x="78.1" y="280.7" font-size="8.2" text-anchor="start" dominant-baseline="central" fill="#222" stroke="#222" stroke-width="0.3" transform="translate(78.1 280.7) scale(1 1.05) translate(-78.1 -280.7)">XRF value</text>
<line x1="53" y1="292.2" x2="75.4" y2="292.2" stroke="#f05555" stroke-width="1.1"/>
<circle cx="64.2" cy="292.2" r="2.53" fill="#f00"/>
<text x="78.1" y="293.2" font-size="8.2" text-anchor="start" dominant-baseline="central" fill="#222" stroke="#222" stroke-width="0.3" transform="translate(78.1 293.2) scale(1 1.05) translate(-78.1 -293.2)">ICP-MS value</text>
<line x1="53" y1="304.3" x2="75.4" y2="304.3" stroke="#6060f0" stroke-width="1.1"/>
<path d="M64.2 301.9L67.03 306.7L61.37 306.7Z" fill="#00f"/>
<text x="78.1" y="305.3" font-size="8.2" text-anchor="start" dominant-baseline="central" fill="#222" stroke="#222" stroke-width="0.3" transform="translate(78.1 305.3) scale(1 1.05) translate(-78.1 -305.3)">Predictive value</text>
<line x1="247.8" y1="283.2" x2="302" y2="283.2" stroke="#222" stroke-width="1.6"/>
<path d="M305 283.2L298.5 281.2L299.48 283.2L298.5 285.2Z" fill="#111"/>
<text x="245.4" y="296.3" font-size="8.3" text-anchor="start" dominant-baseline="central" fill="#222" stroke="#222" stroke-width="0.3" transform="translate(245.4 296.3) scale(1 1.05) translate(-245.4 -296.3)">Prediction value</text>
<text x="20.2" y="279" font-size="9.9" text-anchor="middle" dominant-baseline="central" fill="#222" stroke="#222" stroke-width="0.3" transform="translate(20.2 279) scale(1 1.05) translate(-20.2 -279)">(c)</text>
<text x="21.2" y="375" font-size="10.1" text-anchor="middle" dominant-baseline="central" fill="#222" stroke="#222" stroke-width="0.3" transform="rotate(-90 21.2 375)">Sample Concentration (mg/L)</text>
<text x="181.5" y="489.1" font-size="9.5" text-anchor="middle" dominant-baseline="central" fill="#222" stroke="#222" stroke-width="0.3" transform="translate(181.5 489.1) scale(1 1.05) translate(-181.5 -489.1)">Point</text>
<line x1="580.28" y1="272.3" x2="580.28" y2="481.2" stroke="#e8b584" stroke-width="1.5"/>
<polyline points="388.86,402.5 400.12,419 411.38,424.7 422.64,416.9 433.9,422.9 445.16,422.9 456.42,433 467.68,419.5 478.94,433 490.2,398.1 501.46,427.3 512.72,395.9 523.98,404.4 535.24,439.6 546.5,412.2 557.76,418.7 569.02,418 580.28,388 591.54,420 602.8,433.6 614.06,404.4 625.32,439.6 636.58,425.3 647.84,417.4" fill="none" stroke="#2a2a2a" stroke-width="0.85" stroke-linejoin="round"/>
<rect x="386.44" y="400.08" width="4.84" height="4.84" fill="#000"/>
<rect x="397.7" y="416.58" width="4.84" height="4.84" fill="#000"/>
<rect x="408.96" y="422.28" width="4.84" height="4.84" fill="#000"/>
<rect x="420.22" y="414.48" width="4.84" height="4.84" fill="#000"/>
<rect x="431.48" y="420.48" width="4.84" height="4.84" fill="#000"/>
<rect x="442.74" y="420.48" width="4.84" height="4.84" fill="#000"/>
<rect x="454" y="430.58" width="4.84" height="4.84" fill="#000"/>
<rect x="465.26" y="417.08" width="4.84" height="4.84" fill="#000"/>
<rect x="476.52" y="430.58" width="4.84" height="4.84" fill="#000"/>
<rect x="487.78" y="395.68" width="4.84" height="4.84" fill="#000"/>
<rect x="499.04" y="424.88" width="4.84" height="4.84" fill="#000"/>
<rect x="510.3" y="393.48" width="4.84" height="4.84" fill="#000"/>
<rect x="521.56" y="401.98" width="4.84" height="4.84" fill="#000"/>
<rect x="532.82" y="437.18" width="4.84" height="4.84" fill="#000"/>
<rect x="544.08" y="409.78" width="4.84" height="4.84" fill="#000"/>
<rect x="555.34" y="416.28" width="4.84" height="4.84" fill="#000"/>
<rect x="566.6" y="415.58" width="4.84" height="4.84" fill="#000"/>
<rect x="577.86" y="385.58" width="4.84" height="4.84" fill="#000"/>
<rect x="589.12" y="417.58" width="4.84" height="4.84" fill="#000"/>
<rect x="600.38" y="431.18" width="4.84" height="4.84" fill="#000"/>
<rect x="611.64" y="401.98" width="4.84" height="4.84" fill="#000"/>
<rect x="622.9" y="437.18" width="4.84" height="4.84" fill="#000"/>
<rect x="634.16" y="422.88" width="4.84" height="4.84" fill="#000"/>
<rect x="645.42" y="414.98" width="4.84" height="4.84" fill="#000"/>
<polyline points="388.86,340 400.12,365.5 411.38,367.3 422.64,360.3 433.9,368.1 445.16,361.6 456.42,420.3 467.68,367.3 478.94,377.8 490.2,365.5 501.46,393.9 512.72,371.5 523.98,355.6 535.24,390 546.5,367.1 557.76,442.8 569.02,370 580.28,377.5 591.54,367.9 602.8,377.8 614.06,355.6 625.32,390 636.58,367.9 647.84,360.8" fill="none" stroke="#f03a3a" stroke-width="0.85" stroke-linejoin="round"/>
<circle cx="388.86" cy="340" r="2.81" fill="#f00"/>
<circle cx="400.12" cy="365.5" r="2.81" fill="#f00"/>
<circle cx="411.38" cy="367.3" r="2.81" fill="#f00"/>
<circle cx="422.64" cy="360.3" r="2.81" fill="#f00"/>
<circle cx="433.9" cy="368.1" r="2.81" fill="#f00"/>
<circle cx="445.16" cy="361.6" r="2.81" fill="#f00"/>
<circle cx="456.42" cy="420.3" r="2.81" fill="#f00"/>
<circle cx="467.68" cy="367.3" r="2.81" fill="#f00"/>
<circle cx="478.94" cy="377.8" r="2.81" fill="#f00"/>
<circle cx="490.2" cy="365.5" r="2.81" fill="#f00"/>
<circle cx="501.46" cy="393.9" r="2.81" fill="#f00"/>
<circle cx="512.72" cy="371.5" r="2.81" fill="#f00"/>
<circle cx="523.98" cy="355.6" r="2.81" fill="#f00"/>
<circle cx="535.24" cy="390" r="2.81" fill="#f00"/>
<circle cx="546.5" cy="367.1" r="2.81" fill="#f00"/>
<circle cx="557.76" cy="442.8" r="2.81" fill="#f00"/>
<circle cx="569.02" cy="370" r="2.81" fill="#f00"/>
<circle cx="580.28" cy="377.5" r="2.81" fill="#f00"/>
<circle cx="591.54" cy="367.9" r="2.81" fill="#f00"/>
<circle cx="602.8" cy="377.8" r="2.81" fill="#f00"/>
<circle cx="614.06" cy="355.6" r="2.81" fill="#f00"/>
<circle cx="625.32" cy="390" r="2.81" fill="#f00"/>
<circle cx="636.58" cy="367.9" r="2.81" fill="#f00"/>
<circle cx="647.84" cy="360.8" r="2.81" fill="#f00"/>
<polyline points="388.86,340 400.12,369.2 411.38,394.7 422.64,365.5 433.9,347 445.16,434.3 456.42,417.4 467.68,378.5 478.94,455.2 490.2,315.7 501.46,424.2 512.72,312.6 523.98,343.6 535.24,380.4 546.5,390 557.76,377.5 569.02,398.7 580.28,289.6 591.54,377.8 602.8,455.3 614.06,343.6 625.32,384 636.58,394.7 647.84,366.6" fill="none" stroke="#4848f2" stroke-width="0.85" stroke-linejoin="round"/>
<path d="M388.86 337.34L392 342.66L385.72 342.66Z" fill="#00f"/>
<path d="M400.12 366.54L403.26 371.86L396.98 371.86Z" fill="#00f"/>
<path d="M411.38 392.04L414.52 397.36L408.24 397.36Z" fill="#00f"/>
<path d="M422.64 362.84L425.78 368.16L419.5 368.16Z" fill="#00f"/>
<path d="M433.9 344.34L437.04 349.66L430.76 349.66Z" fill="#00f"/>
<path d="M445.16 431.64L448.3 436.96L442.02 436.96Z" fill="#00f"/>
<path d="M456.42 414.74L459.56 420.06L453.28 420.06Z" fill="#00f"/>
<path d="M467.68 375.84L470.82 381.16L464.54 381.16Z" fill="#00f"/>
<path d="M478.94 452.54L482.08 457.86L475.8 457.86Z" fill="#00f"/>
<path d="M490.2 313.04L493.34 318.36L487.06 318.36Z" fill="#00f"/>
<path d="M501.46 421.54L504.6 426.86L498.32 426.86Z" fill="#00f"/>
<path d="M512.72 309.94L515.86 315.26L509.58 315.26Z" fill="#00f"/>
<path d="M523.98 340.94L527.12 346.26L520.84 346.26Z" fill="#00f"/>
<path d="M535.24 377.74L538.38 383.06L532.1 383.06Z" fill="#00f"/>
<path d="M546.5 387.34L549.64 392.66L543.36 392.66Z" fill="#00f"/>
<path d="M557.76 374.84L560.9 380.16L554.62 380.16Z" fill="#00f"/>
<path d="M569.02 396.04L572.16 401.36L565.88 401.36Z" fill="#00f"/>
<path d="M580.28 286.94L583.42 292.26L577.14 292.26Z" fill="#00f"/>
<path d="M591.54 375.14L594.68 380.46L588.4 380.46Z" fill="#00f"/>
<path d="M602.8 452.64L605.94 457.96L599.66 457.96Z" fill="#00f"/>
<path d="M614.06 340.94L617.2 346.26L610.92 346.26Z" fill="#00f"/>
<path d="M625.32 381.34L628.46 386.66L622.18 386.66Z" fill="#00f"/>
<path d="M636.58 392.04L639.72 397.36L633.44 397.36Z" fill="#00f"/>
<path d="M647.84 363.94L650.98 369.26L644.7 369.26Z" fill="#00f"/>
<rect x="377.6" y="272.3" width="281.5" height="208.9" fill="none" stroke="#1e1e1e" stroke-width="1.15"/>
<line x1="377.6" y1="481.2" x2="377.6" y2="477.2" stroke="#1e1e1e" stroke-width="1.15"/>
<text x="377.6" y="489.7" font-size="8.7" text-anchor="middle" dominant-baseline="central" fill="#222" stroke="#222" stroke-width="0.3" transform="translate(377.6 489.7) scale(1 1.08) translate(-377.6 -489.7)">0</text>
<line x1="405.75" y1="481.2" x2="405.75" y2="478.9" stroke="#1e1e1e" stroke-width="1.15"/>
<line x1="433.9" y1="481.2" x2="433.9" y2="477.2" stroke="#1e1e1e" stroke-width="1.15"/>
<text x="433.9" y="489.7" font-size="8.7" text-anchor="middle" dominant-baseline="central" fill="#222" stroke="#222" stroke-width="0.3" transform="translate(433.9 489.7) scale(1 1.08) translate(-433.9 -489.7)">5</text>
<line x1="462.05" y1="481.2" x2="462.05" y2="478.9" stroke="#1e1e1e" stroke-width="1.15"/>
<line x1="490.2" y1="481.2" x2="490.2" y2="477.2" stroke="#1e1e1e" stroke-width="1.15"/>
<text x="490.2" y="489.7" font-size="8.7" text-anchor="middle" dominant-baseline="central" fill="#222" stroke="#222" stroke-width="0.3" transform="translate(490.2 489.7) scale(1 1.08) translate(-490.2 -489.7)">10</text>
<line x1="518.35" y1="481.2" x2="518.35" y2="478.9" stroke="#1e1e1e" stroke-width="1.15"/>
<line x1="546.5" y1="481.2" x2="546.5" y2="477.2" stroke="#1e1e1e" stroke-width="1.15"/>
<text x="546.5" y="489.7" font-size="8.7" text-anchor="middle" dominant-baseline="central" fill="#222" stroke="#222" stroke-width="0.3" transform="translate(546.5 489.7) scale(1 1.08) translate(-546.5 -489.7)">15</text>
<line x1="574.65" y1="481.2" x2="574.65" y2="478.9" stroke="#1e1e1e" stroke-width="1.15"/>
<line x1="602.8" y1="481.2" x2="602.8" y2="477.2" stroke="#1e1e1e" stroke-width="1.15"/>
<text x="602.8" y="489.7" font-size="8.7" text-anchor="middle" dominant-baseline="central" fill="#222" stroke="#222" stroke-width="0.3" transform="translate(602.8 489.7) scale(1 1.08) translate(-602.8 -489.7)">20</text>
<line x1="630.95" y1="481.2" x2="630.95" y2="478.9" stroke="#1e1e1e" stroke-width="1.15"/>
<line x1="659.1" y1="481.2" x2="659.1" y2="477.2" stroke="#1e1e1e" stroke-width="1.15"/>
<text x="659.1" y="489.7" font-size="8.7" text-anchor="middle" dominant-baseline="central" fill="#222" stroke="#222" stroke-width="0.3" transform="translate(659.1 489.7) scale(1 1.08) translate(-659.1 -489.7)">25</text>
<line x1="377.6" y1="481.2" x2="381.6" y2="481.2" stroke="#1e1e1e" stroke-width="1.15"/>
<text x="373.3" y="481.2" font-size="8.7" text-anchor="end" dominant-baseline="central" fill="#222" stroke="#222" stroke-width="0.3" transform="translate(373.3 481.2) scale(1 1.08) translate(-373.3 -481.2)">50</text>
<line x1="377.6" y1="446.38" x2="381.6" y2="446.38" stroke="#1e1e1e" stroke-width="1.15"/>
<text x="373.3" y="446.38" font-size="8.7" text-anchor="end" dominant-baseline="central" fill="#222" stroke="#222" stroke-width="0.3" transform="translate(373.3 446.38) scale(1 1.08) translate(-373.3 -446.38)">100</text>
<line x1="377.6" y1="411.57" x2="381.6" y2="411.57" stroke="#1e1e1e" stroke-width="1.15"/>
<text x="373.3" y="411.57" font-size="8.7" text-anchor="end" dominant-baseline="central" fill="#222" stroke="#222" stroke-width="0.3" transform="translate(373.3 411.57) scale(1 1.08) translate(-373.3 -411.57)">150</text>
<line x1="377.6" y1="376.75" x2="381.6" y2="376.75" stroke="#1e1e1e" stroke-width="1.15"/>
<text x="373.3" y="376.75" font-size="8.7" text-anchor="end" dominant-baseline="central" fill="#222" stroke="#222" stroke-width="0.3" transform="translate(373.3 376.75) scale(1 1.08) translate(-373.3 -376.75)">200</text>
<line x1="377.6" y1="341.94" x2="381.6" y2="341.94" stroke="#1e1e1e" stroke-width="1.15"/>
<text x="373.3" y="341.94" font-size="8.7" text-anchor="end" dominant-baseline="central" fill="#222" stroke="#222" stroke-width="0.3" transform="translate(373.3 341.94) scale(1 1.08) translate(-373.3 -341.94)">250</text>
<line x1="377.6" y1="307.12" x2="381.6" y2="307.12" stroke="#1e1e1e" stroke-width="1.15"/>
<text x="373.3" y="307.12" font-size="8.7" text-anchor="end" dominant-baseline="central" fill="#222" stroke="#222" stroke-width="0.3" transform="translate(373.3 307.12) scale(1 1.08) translate(-373.3 -307.12)">300</text>
<line x1="377.6" y1="272.31" x2="381.6" y2="272.31" stroke="#1e1e1e" stroke-width="1.15"/>
<text x="373.3" y="272.31" font-size="8.7" text-anchor="end" dominant-baseline="central" fill="#222" stroke="#222" stroke-width="0.3" transform="translate(373.3 272.31) scale(1 1.08) translate(-373.3 -272.31)">350</text>
<line x1="377.6" y1="463.79" x2="379.9" y2="463.79" stroke="#1e1e1e" stroke-width="1.15"/>
<line x1="377.6" y1="428.98" x2="379.9" y2="428.98" stroke="#1e1e1e" stroke-width="1.15"/>
<line x1="377.6" y1="394.16" x2="379.9" y2="394.16" stroke="#1e1e1e" stroke-width="1.15"/>
<line x1="377.6" y1="359.35" x2="379.9" y2="359.35" stroke="#1e1e1e" stroke-width="1.15"/>
<line x1="377.6" y1="324.53" x2="379.9" y2="324.53" stroke="#1e1e1e" stroke-width="1.15"/>
<line x1="377.6" y1="289.72" x2="379.9" y2="289.72" stroke="#1e1e1e" stroke-width="1.15"/>
<line x1="392" y1="283.3" x2="416" y2="283.3" stroke="#7a7a7a" stroke-width="1.1"/>
<rect x="401.58" y="280.88" width="4.84" height="4.84" fill="#000"/>
<text x="418.9" y="283.3" font-size="8.85" text-anchor="start" dominant-baseline="central" fill="#222" stroke="#222" stroke-width="0.3" transform="translate(418.9 283.3) scale(1 1.08) translate(-418.9 -283.3)">XRF value</text>
<line x1="392" y1="296.6" x2="416" y2="296.6" stroke="#f05555" stroke-width="1.1"/>
<circle cx="404" cy="296.6" r="2.81" fill="#f00"/>
<text x="418.9" y="296.6" font-size="8.85" text-anchor="start" dominant-baseline="central" fill="#222" stroke="#222" stroke-width="0.3" transform="translate(418.9 296.6) scale(1 1.08) translate(-418.9 -296.6)">ICP-MS value</text>
<line x1="392" y1="309.7" x2="416" y2="309.7" stroke="#6060f0" stroke-width="1.1"/>
<path d="M404 307.04L407.14 312.36L400.86 312.36Z" fill="#00f"/>
<text x="418.9" y="309.7" font-size="8.85" text-anchor="start" dominant-baseline="central" fill="#222" stroke="#222" stroke-width="0.3" transform="translate(418.9 309.7) scale(1 1.08) translate(-418.9 -309.7)">Predictive value</text>
<line x1="591.2" y1="286.4" x2="649.8" y2="286.4" stroke="#222" stroke-width="1.6"/>
<path d="M652.8 286.4L646.3 284.4L647.27 286.4L646.3 288.4Z" fill="#111"/>
<text x="591.1" y="303.1" font-size="8.9" text-anchor="start" dominant-baseline="central" fill="#222" stroke="#222" stroke-width="0.3" transform="translate(591.1 303.1) scale(1 1.08) translate(-591.1 -303.1)">Prediction value</text>
<text x="341.2" y="277.3" font-size="10" text-anchor="middle" dominant-baseline="central" fill="#222" stroke="#222" stroke-width="0.3" transform="translate(341.2 277.3) scale(1 1.08) translate(-341.2 -277.3)">(e)</text>
<text x="347.5" y="383.8" font-size="10.8" text-anchor="middle" dominant-baseline="central" fill="#222" stroke="#222" stroke-width="0.3" transform="rotate(-90 347.5 383.8)">Sample Concentration (mg/L)</text>
<text x="518.6" y="506" font-size="10.4" text-anchor="middle" dominant-baseline="central" fill="#222" stroke="#222" stroke-width="0.3" transform="translate(518.6 506) scale(1 1.08) translate(-518.6 -506)">Point</text>
<line x1="239.86" y1="528.5" x2="239.86" y2="734.1" stroke="#f3d9b0" stroke-width="2.3"/>
<polyline points="52.05,730.6 63.1,729.6 74.14,729 85.19,727.9 96.24,726.8 107.29,725.4 118.34,725.4 129.38,724.7 140.43,724.3 151.48,724.7 162.53,723.7 173.58,723.3 184.62,722.9 195.67,722 206.72,722.3 217.77,722.9 228.82,721.4 239.86,685.3 250.91,719.1 261.96,716.8 273.01,713.4 284.06,713.4 295.1,698.5 306.15,722.3" fill="none" stroke="#2a2a2a" stroke-width="0.85" stroke-linejoin="round"/>
<rect x="49.72" y="728.27" width="4.66" height="4.66" fill="#000"/>
<rect x="60.77" y="727.27" width="4.66" height="4.66" fill="#000"/>
<rect x="71.82" y="726.67" width="4.66" height="4.66" fill="#000"/>
<rect x="82.86" y="725.57" width="4.66" height="4.66" fill="#000"/>
<rect x="93.91" y="724.47" width="4.66" height="4.66" fill="#000"/>
<rect x="104.96" y="723.07" width="4.66" height="4.66" fill="#000"/>
<rect x="116.01" y="723.07" width="4.66" height="4.66" fill="#000"/>
<rect x="127.06" y="722.37" width="4.66" height="4.66" fill="#000"/>
<rect x="138.1" y="721.97" width="4.66" height="4.66" fill="#000"/>
<rect x="149.15" y="722.37" width="4.66" height="4.66" fill="#000"/>
<rect x="160.2" y="721.37" width="4.66" height="4.66" fill="#000"/>
<rect x="171.25" y="720.97" width="4.66" height="4.66" fill="#000"/>
<rect x="182.3" y="720.57" width="4.66" height="4.66" fill="#000"/>
<rect x="193.34" y="719.67" width="4.66" height="4.66" fill="#000"/>
<rect x="204.39" y="719.97" width="4.66" height="4.66" fill="#000"/>
<rect x="215.44" y="720.57" width="4.66" height="4.66" fill="#000"/>
<rect x="226.49" y="719.07" width="4.66" height="4.66" fill="#000"/>
<rect x="237.54" y="682.97" width="4.66" height="4.66" fill="#000"/>
<rect x="248.58" y="716.77" width="4.66" height="4.66" fill="#000"/>
<rect x="259.63" y="714.47" width="4.66" height="4.66" fill="#000"/>
<rect x="270.68" y="711.07" width="4.66" height="4.66" fill="#000"/>
<rect x="281.73" y="711.07" width="4.66" height="4.66" fill="#000"/>
<rect x="292.78" y="696.17" width="4.66" height="4.66" fill="#000"/>
<rect x="303.82" y="719.97" width="4.66" height="4.66" fill="#000"/>
<polyline points="52.05,721.6 63.1,721.6 74.14,728.9 85.19,721.6 96.24,723.1 107.29,722.7 118.34,726.8 129.38,721.6 140.43,726.2 151.48,726.4 162.53,722.7 173.58,722.7 184.62,722.9 195.67,722 206.72,722.9 217.77,722 228.82,722.9 239.86,722 250.91,721.4 261.96,708.5 273.01,723.4 284.06,722 295.1,721.4 306.15,723.4" fill="none" stroke="#f03a3a" stroke-width="0.85" stroke-linejoin="round"/>
<circle cx="52.05" cy="721.6" r="2.7" fill="#f00"/>
<circle cx="63.1" cy="721.6" r="2.7" fill="#f00"/>
<circle cx="74.14" cy="728.9" r="2.7" fill="#f00"/>
<circle cx="85.19" cy="721.6" r="2.7" fill="#f00"/>
<circle cx="96.24" cy="723.1" r="2.7" fill="#f00"/>
<circle cx="107.29" cy="722.7" r="2.7" fill="#f00"/>
<circle cx="118.34" cy="726.8" r="2.7" fill="#f00"/>
<circle cx="129.38" cy="721.6" r="2.7" fill="#f00"/>
<circle cx="140.43" cy="726.2" r="2.7" fill="#f00"/>
<circle cx="151.48" cy="726.4" r="2.7" fill="#f00"/>
<circle cx="162.53" cy="722.7" r="2.7" fill="#f00"/>
<circle cx="173.58" cy="722.7" r="2.7" fill="#f00"/>
<circle cx="184.62" cy="722.9" r="2.7" fill="#f00"/>
<circle cx="195.67" cy="722" r="2.7" fill="#f00"/>
<circle cx="206.72" cy="722.9" r="2.7" fill="#f00"/>
<circle cx="217.77" cy="722" r="2.7" fill="#f00"/>
<circle cx="228.82" cy="722.9" r="2.7" fill="#f00"/>
<circle cx="239.86" cy="722" r="2.7" fill="#f00"/>
<circle cx="250.91" cy="721.4" r="2.7" fill="#f00"/>
<circle cx="261.96" cy="708.5" r="2.7" fill="#f00"/>
<circle cx="273.01" cy="723.4" r="2.7" fill="#f00"/>
<circle cx="284.06" cy="722" r="2.7" fill="#f00"/>
<circle cx="295.1" cy="721.4" r="2.7" fill="#f00"/>
<circle cx="306.15" cy="723.4" r="2.7" fill="#f00"/>
<polyline points="52.05,695.5 63.1,730 74.14,731.6 85.19,730 96.24,728.3 107.29,712.8 118.34,725.8 129.38,724.7 140.43,723.3 151.48,724.3 162.53,707.6 173.58,720.6 184.62,719.7 195.67,716.3 206.72,719.1 217.77,706.2 228.82,698.2 239.86,537.2 250.91,714 261.96,697.7 273.01,680.5 284.06,680.5 295.1,575.9 306.15,720.6" fill="none" stroke="#4848f2" stroke-width="0.85" stroke-linejoin="round"/>
<path d="M52.05 692.94L55.07 698.06L49.03 698.06Z" fill="#00f"/>
<path d="M63.1 727.44L66.11 732.56L60.08 732.56Z" fill="#00f"/>
<path d="M74.14 729.04L77.16 734.16L71.13 734.16Z" fill="#00f"/>
<path d="M85.19 727.44L88.21 732.56L82.17 732.56Z" fill="#00f"/>
<path d="M96.24 725.74L99.26 730.86L93.22 730.86Z" fill="#00f"/>
<path d="M107.29 710.24L110.31 715.36L104.27 715.36Z" fill="#00f"/>
<path d="M118.34 723.24L121.35 728.36L115.32 728.36Z" fill="#00f"/>
<path d="M129.38 722.14L132.4 727.26L126.37 727.26Z" fill="#00f"/>
<path d="M140.43 720.74L143.45 725.86L137.41 725.86Z" fill="#00f"/>
<path d="M151.48 721.74L154.5 726.86L148.46 726.86Z" fill="#00f"/>
<path d="M162.53 705.04L165.55 710.16L159.51 710.16Z" fill="#00f"/>
<path d="M173.58 718.04L176.59 723.16L170.56 723.16Z" fill="#00f"/>
<path d="M184.62 717.14L187.64 722.26L181.61 722.26Z" fill="#00f"/>
<path d="M195.67 713.74L198.69 718.86L192.65 718.86Z" fill="#00f"/>
<path d="M206.72 716.54L209.74 721.66L203.7 721.66Z" fill="#00f"/>
<path d="M217.77 703.64L220.79 708.76L214.75 708.76Z" fill="#00f"/>
<path d="M228.82 695.64L231.83 700.76L225.8 700.76Z" fill="#00f"/>
<path d="M239.86 534.64L242.88 539.76L236.85 539.76Z" fill="#00f"/>
<path d="M250.91 711.44L253.93 716.56L247.89 716.56Z" fill="#00f"/>
<path d="M261.96 695.14L264.98 700.26L258.94 700.26Z" fill="#00f"/>
<path d="M273.01 677.94L276.03 683.06L269.99 683.06Z" fill="#00f"/>
<path d="M284.06 677.94L287.07 683.06L281.04 683.06Z" fill="#00f"/>
<path d="M295.1 573.34L298.12 578.46L292.09 578.46Z" fill="#00f"/>
<path d="M306.15 718.04L309.17 723.16L303.13 723.16Z" fill="#00f"/>
<rect x="41" y="567.6" width="276.2" height="3.3" fill="#fff"/>
<line x1="239.86" y1="567.1" x2="239.86" y2="571.4" stroke="#f3d9b0" stroke-width="2.3"/>
<rect x="41" y="528.5" width="276.2" height="205.6" fill="none" stroke="#1e1e1e" stroke-width="1.15"/>
<rect x="39.5" y="567.9" width="3" height="3.9" fill="#fff"/>
<path d="M37.2 569.5L45 566.7M37.2 573.4L45 570.6" stroke="#222" stroke-width="1" fill="none"/>
<rect x="315.7" y="567.9" width="3" height="3.5" fill="#fff"/>
<path d="M313.4 569.5L321.2 566.7M313.4 573L321.2 570.2" stroke="#222" stroke-width="1" fill="none"/>
<line x1="41" y1="734.1" x2="41" y2="730.1" stroke="#1e1e1e" stroke-width="1.15"/>
<text x="41" y="742.5" font-size="8" text-anchor="middle" dominant-baseline="central" fill="#222" stroke="#222" stroke-width="0.3" transform="translate(41 742.5) scale(1 1.08) translate(-41 -742.5)">0</text>
<line x1="68.62" y1="734.1" x2="68.62" y2="731.8" stroke="#1e1e1e" stroke-width="1.15"/>
<line x1="96.24" y1="734.1" x2="96.24" y2="730.1" stroke="#1e1e1e" stroke-width="1.15"/>
<text x="96.24" y="742.5" font-size="8" text-anchor="middle" dominant-baseline="central" fill="#222" stroke="#222" stroke-width="0.3" transform="translate(96.24 742.5) scale(1 1.08) translate(-96.24 -742.5)">5</text>
<line x1="123.86" y1="734.1" x2="123.86" y2="731.8" stroke="#1e1e1e" stroke-width="1.15"/>
<line x1="151.48" y1="734.1" x2="151.48" y2="730.1" stroke="#1e1e1e" stroke-width="1.15"/>
<text x="151.48" y="742.5" font-size="8" text-anchor="middle" dominant-baseline="central" fill="#222" stroke="#222" stroke-width="0.3" transform="translate(151.48 742.5) scale(1 1.08) translate(-151.48 -742.5)">10</text>
<line x1="179.1" y1="734.1" x2="179.1" y2="731.8" stroke="#1e1e1e" stroke-width="1.15"/>
<line x1="206.72" y1="734.1" x2="206.72" y2="730.1" stroke="#1e1e1e" stroke-width="1.15"/>
<text x="206.72" y="742.5" font-size="8" text-anchor="middle" dominant-baseline="central" fill="#222" stroke="#222" stroke-width="0.3" transform="translate(206.72 742.5) scale(1 1.08) translate(-206.72 -742.5)">15</text>
<line x1="234.34" y1="734.1" x2="234.34" y2="731.8" stroke="#1e1e1e" stroke-width="1.15"/>
<line x1="261.96" y1="734.1" x2="261.96" y2="730.1" stroke="#1e1e1e" stroke-width="1.15"/>
<text x="261.96" y="742.5" font-size="8" text-anchor="middle" dominant-baseline="central" fill="#222" stroke="#222" stroke-width="0.3" transform="translate(261.96 742.5) scale(1 1.08) translate(-261.96 -742.5)">20</text>
<line x1="289.58" y1="734.1" x2="289.58" y2="731.8" stroke="#1e1e1e" stroke-width="1.15"/>
<line x1="317.2" y1="734.1" x2="317.2" y2="730.1" stroke="#1e1e1e" stroke-width="1.15"/>
<text x="317.2" y="742.5" font-size="8" text-anchor="middle" dominant-baseline="central" fill="#222" stroke="#222" stroke-width="0.3" transform="translate(317.2 742.5) scale(1 1.08) translate(-317.2 -742.5)">25</text>
<line x1="41" y1="716" x2="45" y2="716" stroke="#1e1e1e" stroke-width="1.15"/>
<text x="36.2" y="716" font-size="8" text-anchor="end" dominant-baseline="central" fill="#222" stroke="#222" stroke-width="0.3" transform="translate(36.2 716) scale(1 1.08) translate(-36.2 -716)">40</text>
<line x1="41" y1="693.66" x2="45" y2="693.66" stroke="#1e1e1e" stroke-width="1.15"/>
<text x="36.2" y="693.66" font-size="8" text-anchor="end" dominant-baseline="central" fill="#222" stroke="#222" stroke-width="0.3" transform="translate(36.2 693.66) scale(1 1.08) translate(-36.2 -693.66)">80</text>
<line x1="41" y1="671.32" x2="45" y2="671.32" stroke="#1e1e1e" stroke-width="1.15"/>
<text x="36.2" y="671.32" font-size="8" text-anchor="end" dominant-baseline="central" fill="#222" stroke="#222" stroke-width="0.3" transform="translate(36.2 671.32) scale(1 1.08) translate(-36.2 -671.32)">120</text>
<line x1="41" y1="648.98" x2="45" y2="648.98" stroke="#1e1e1e" stroke-width="1.15"/>
<text x="36.2" y="648.98" font-size="8" text-anchor="end" dominant-baseline="central" fill="#222" stroke="#222" stroke-width="0.3" transform="translate(36.2 648.98) scale(1 1.08) translate(-36.2 -648.98)">160</text>
<line x1="41" y1="626.64" x2="45" y2="626.64" stroke="#1e1e1e" stroke-width="1.15"/>
<text x="36.2" y="626.64" font-size="8" text-anchor="end" dominant-baseline="central" fill="#222" stroke="#222" stroke-width="0.3" transform="translate(36.2 626.64) scale(1 1.08) translate(-36.2 -626.64)">200</text>
<line x1="41" y1="604.3" x2="45" y2="604.3" stroke="#1e1e1e" stroke-width="1.15"/>
<text x="36.2" y="604.3" font-size="8" text-anchor="end" dominant-baseline="central" fill="#222" stroke="#222" stroke-width="0.3" transform="translate(36.2 604.3) scale(1 1.08) translate(-36.2 -604.3)">240</text>
<line x1="41" y1="581.96" x2="45" y2="581.96" stroke="#1e1e1e" stroke-width="1.15"/>
<text x="36.2" y="581.96" font-size="8" text-anchor="end" dominant-baseline="central" fill="#222" stroke="#222" stroke-width="0.3" transform="translate(36.2 581.96) scale(1 1.08) translate(-36.2 -581.96)">280</text>
<line x1="41" y1="727.17" x2="43.3" y2="727.17" stroke="#1e1e1e" stroke-width="1.15"/>
<line x1="41" y1="704.83" x2="43.3" y2="704.83" stroke="#1e1e1e" stroke-width="1.15"/>
<line x1="41" y1="682.49" x2="43.3" y2="682.49" stroke="#1e1e1e" stroke-width="1.15"/>
<line x1="41" y1="660.15" x2="43.3" y2="660.15" stroke="#1e1e1e" stroke-width="1.15"/>
<line x1="41" y1="637.81" x2="43.3" y2="637.81" stroke="#1e1e1e" stroke-width="1.15"/>
<line x1="41" y1="615.47" x2="43.3" y2="615.47" stroke="#1e1e1e" stroke-width="1.15"/>
<line x1="41" y1="593.13" x2="43.3" y2="593.13" stroke="#1e1e1e" stroke-width="1.15"/>
<line x1="41" y1="528.5" x2="45" y2="528.5" stroke="#1e1e1e" stroke-width="1.15"/>
<text x="36.2" y="528.5" font-size="8" text-anchor="end" dominant-baseline="central" fill="#222" stroke="#222" stroke-width="0.3" transform="translate(36.2 528.5) scale(1 1.08) translate(-36.2 -528.5)">770</text>
<line x1="41" y1="548.5" x2="43.3" y2="548.5" stroke="#1e1e1e" stroke-width="1.15"/>
<line x1="41" y1="568.5" x2="45" y2="568.5" stroke="#1e1e1e" stroke-width="1.15"/>
<text x="36.2" y="568.5" font-size="8" text-anchor="end" dominant-baseline="central" fill="#222" stroke="#222" stroke-width="0.3" transform="translate(36.2 568.5) scale(1 1.08) translate(-36.2 -568.5)">760</text>
<line x1="55.9" y1="544.9" x2="79.2" y2="544.9" stroke="#7a7a7a" stroke-width="1.1"/>
<rect x="65.17" y="542.57" width="4.66" height="4.66" fill="#000"/>
<text x="81.9" y="545.7" font-size="8.7" text-anchor="start" dominant-baseline="central" fill="#222" stroke="#222" stroke-width="0.3" transform="translate(81.9 545.7) scale(1 1.08) translate(-81.9 -545.7)">XRF value</text>
<line x1="55.9" y1="557.8" x2="79.2" y2="557.8" stroke="#f05555" stroke-width="1.1"/>
<circle cx="67.5" cy="557.8" r="2.7" fill="#f00"/>
<text x="81.9" y="558.6" font-size="8.7" text-anchor="start" dominant-baseline="central" fill="#222" stroke="#222" stroke-width="0.3" transform="translate(81.9 558.6) scale(1 1.08) translate(-81.9 -558.6)">ICP-MS value</text>
<line x1="55.9" y1="570.9" x2="79.2" y2="570.9" stroke="#6060f0" stroke-width="1.1"/>
<path d="M67.5 568.34L70.52 573.46L64.48 573.46Z" fill="#00f"/>
<text x="81.9" y="571.7" font-size="8.7" text-anchor="start" dominant-baseline="central" fill="#222" stroke="#222" stroke-width="0.3" transform="translate(81.9 571.7) scale(1 1.08) translate(-81.9 -571.7)">Predictive value</text>
<line x1="242.6" y1="546" x2="300" y2="546" stroke="#222" stroke-width="1.6"/>
<path d="M303 546L296.5 544L297.48 546L296.5 548Z" fill="#111"/>
<text x="242.9" y="558.7" font-size="8.7" text-anchor="start" dominant-baseline="central" fill="#222" stroke="#222" stroke-width="0.3" transform="translate(242.9 558.7) scale(1 1.08) translate(-242.9 -558.7)">Prediction value</text>
<text x="10.4" y="532.85" font-size="10.1" text-anchor="middle" dominant-baseline="central" fill="#222" stroke="#222" stroke-width="0.3" transform="translate(10.4 532.85) scale(1 1.08) translate(-10.4 -532.85)">(b)</text>
<text x="11" y="638.2" font-size="10.6" text-anchor="middle" dominant-baseline="central" fill="#222" stroke="#222" stroke-width="0.3" transform="rotate(-90 11 638.2)">Sample Concentration (mg/L)</text>
<text x="178.6" y="758" font-size="10" text-anchor="middle" dominant-baseline="central" fill="#222" stroke="#222" stroke-width="0.3" transform="translate(178.6 758) scale(1 1.08) translate(-178.6 -758)">Point</text>
<line x1="578.58" y1="534.2" x2="578.58" y2="738.4" stroke="#e8b584" stroke-width="1.5"/>
<polyline points="391.79,729.1 402.78,701.4 413.76,700.7 424.75,704.7 435.74,701.4 446.73,713.6 457.72,677.9 468.7,710 479.69,715.8 490.68,688.5 501.67,703.6 512.66,692.3 523.64,702.2 534.63,704.3 545.62,694.9 556.61,682.7 567.6,713.5 578.58,693.1 589.57,704.8 600.56,701.4 611.55,716.1 622.54,687.9 633.52,682.7 644.51,713.5" fill="none" stroke="#2a2a2a" stroke-width="0.85" stroke-linejoin="round"/>
<rect x="389.51" y="726.82" width="4.56" height="4.56" fill="#000"/>
<rect x="400.5" y="699.12" width="4.56" height="4.56" fill="#000"/>
<rect x="411.48" y="698.42" width="4.56" height="4.56" fill="#000"/>
<rect x="422.47" y="702.42" width="4.56" height="4.56" fill="#000"/>
<rect x="433.46" y="699.12" width="4.56" height="4.56" fill="#000"/>
<rect x="444.45" y="711.32" width="4.56" height="4.56" fill="#000"/>
<rect x="455.44" y="675.62" width="4.56" height="4.56" fill="#000"/>
<rect x="466.42" y="707.72" width="4.56" height="4.56" fill="#000"/>
<rect x="477.41" y="713.52" width="4.56" height="4.56" fill="#000"/>
<rect x="488.4" y="686.22" width="4.56" height="4.56" fill="#000"/>
<rect x="499.39" y="701.32" width="4.56" height="4.56" fill="#000"/>
<rect x="510.38" y="690.02" width="4.56" height="4.56" fill="#000"/>
<rect x="521.36" y="699.92" width="4.56" height="4.56" fill="#000"/>
<rect x="532.35" y="702.02" width="4.56" height="4.56" fill="#000"/>
<rect x="543.34" y="692.62" width="4.56" height="4.56" fill="#000"/>
<rect x="554.33" y="680.42" width="4.56" height="4.56" fill="#000"/>
<rect x="565.32" y="711.22" width="4.56" height="4.56" fill="#000"/>
<rect x="576.3" y="690.82" width="4.56" height="4.56" fill="#000"/>
<rect x="587.29" y="702.52" width="4.56" height="4.56" fill="#000"/>
<rect x="598.28" y="699.12" width="4.56" height="4.56" fill="#000"/>
<rect x="609.27" y="713.82" width="4.56" height="4.56" fill="#000"/>
<rect x="620.26" y="685.62" width="4.56" height="4.56" fill="#000"/>
<rect x="631.24" y="680.42" width="4.56" height="4.56" fill="#000"/>
<rect x="642.23" y="711.22" width="4.56" height="4.56" fill="#000"/>
<polyline points="391.79,704 402.78,662.4 413.76,656 424.75,649.8 435.74,649.1 446.73,688.5 457.72,623.8 468.7,652 479.69,660.8 490.68,602.1 501.67,669.7 512.66,642.6 523.64,647.4 534.63,640.1 545.62,638.3 556.61,622.1 567.6,643.5 578.58,669.6 589.57,650 600.56,649.5 611.55,661 622.54,601.8 633.52,622.1 644.51,643.5" fill="none" stroke="#f03a3a" stroke-width="0.85" stroke-linejoin="round"/>
<circle cx="391.79" cy="704" r="2.64" fill="#f00"/>
<circle cx="402.78" cy="662.4" r="2.64" fill="#f00"/>
<circle cx="413.76" cy="656" r="2.64" fill="#f00"/>
<circle cx="424.75" cy="649.8" r="2.64" fill="#f00"/>
<circle cx="435.74" cy="649.1" r="2.64" fill="#f00"/>
<circle cx="446.73" cy="688.5" r="2.64" fill="#f00"/>
<circle cx="457.72" cy="623.8" r="2.64" fill="#f00"/>
<circle cx="468.7" cy="652" r="2.64" fill="#f00"/>
<circle cx="479.69" cy="660.8" r="2.64" fill="#f00"/>
<circle cx="490.68" cy="602.1" r="2.64" fill="#f00"/>
<circle cx="501.67" cy="669.7" r="2.64" fill="#f00"/>
<circle cx="512.66" cy="642.6" r="2.64" fill="#f00"/>
<circle cx="523.64" cy="647.4" r="2.64" fill="#f00"/>
<circle cx="534.63" cy="640.1" r="2.64" fill="#f00"/>
<circle cx="545.62" cy="638.3" r="2.64" fill="#f00"/>
<circle cx="556.61" cy="622.1" r="2.64" fill="#f00"/>
<circle cx="567.6" cy="643.5" r="2.64" fill="#f00"/>
<circle cx="578.58" cy="669.6" r="2.64" fill="#f00"/>
<circle cx="589.57" cy="650" r="2.64" fill="#f00"/>
<circle cx="600.56" cy="649.5" r="2.64" fill="#f00"/>
<circle cx="611.55" cy="661" r="2.64" fill="#f00"/>
<circle cx="622.54" cy="601.8" r="2.64" fill="#f00"/>
<circle cx="633.52" cy="622.1" r="2.64" fill="#f00"/>
<circle cx="644.51" cy="643.5" r="2.64" fill="#f00"/>
<polyline points="391.79,712.9 402.78,649.3 413.76,647.5 424.75,658.6 435.74,649.1 446.73,678.6 457.72,587.7 468.7,671.5 479.69,684.5 490.68,616.1 501.67,654.6 512.66,627.6 523.64,651.3 534.63,657.1 545.62,633.6 556.61,601.8 567.6,678.7 578.58,628.6 589.57,658.4 600.56,649.5 611.55,684.5 622.54,616.1 633.52,601.8 644.51,678.7" fill="none" stroke="#4848f2" stroke-width="0.85" stroke-linejoin="round"/>
<path d="M391.79 710.39L394.74 715.41L388.83 715.41Z" fill="#00f"/>
<path d="M402.78 646.79L405.73 651.81L399.82 651.81Z" fill="#00f"/>
<path d="M413.76 644.99L416.72 650.01L410.81 650.01Z" fill="#00f"/>
<path d="M424.75 656.09L427.71 661.11L421.8 661.11Z" fill="#00f"/>
<path d="M435.74 646.59L438.7 651.61L432.78 651.61Z" fill="#00f"/>
<path d="M446.73 676.09L449.68 681.11L443.77 681.11Z" fill="#00f"/>
<path d="M457.72 585.19L460.67 590.21L454.76 590.21Z" fill="#00f"/>
<path d="M468.7 668.99L471.66 674.01L465.75 674.01Z" fill="#00f"/>
<path d="M479.69 681.99L482.65 687.01L476.74 687.01Z" fill="#00f"/>
<path d="M490.68 613.59L493.64 618.61L487.72 618.61Z" fill="#00f"/>
<path d="M501.67 652.09L504.62 657.11L498.71 657.11Z" fill="#00f"/>
<path d="M512.66 625.09L515.61 630.11L509.7 630.11Z" fill="#00f"/>
<path d="M523.64 648.79L526.6 653.81L520.69 653.81Z" fill="#00f"/>
<path d="M534.63 654.59L537.59 659.61L531.68 659.61Z" fill="#00f"/>
<path d="M545.62 631.09L548.58 636.11L542.66 636.11Z" fill="#00f"/>
<path d="M556.61 599.29L559.56 604.31L553.65 604.31Z" fill="#00f"/>
<path d="M567.6 676.19L570.55 681.21L564.64 681.21Z" fill="#00f"/>
<path d="M578.58 626.09L581.54 631.11L575.63 631.11Z" fill="#00f"/>
<path d="M589.57 655.89L592.53 660.91L586.62 660.91Z" fill="#00f"/>
<path d="M600.56 646.99L603.52 652.01L597.6 652.01Z" fill="#00f"/>
<path d="M611.55 681.99L614.5 687.01L608.59 687.01Z" fill="#00f"/>
<path d="M622.54 613.59L625.49 618.61L619.58 618.61Z" fill="#00f"/>
<path d="M633.52 599.29L636.48 604.31L630.57 604.31Z" fill="#00f"/>
<path d="M644.51 676.19L647.47 681.21L641.56 681.21Z" fill="#00f"/>
<rect x="380.8" y="534.2" width="274.7" height="204.2" fill="none" stroke="#1e1e1e" stroke-width="1.15"/>
<line x1="380.8" y1="738.4" x2="380.8" y2="734.4" stroke="#1e1e1e" stroke-width="1.15"/>
<text x="380.8" y="746.7" font-size="8.3" text-anchor="middle" dominant-baseline="central" fill="#222" stroke="#222" stroke-width="0.3" transform="translate(380.8 746.7) scale(1 1.06) translate(-380.8 -746.7)">0</text>
<line x1="408.27" y1="738.4" x2="408.27" y2="736.1" stroke="#1e1e1e" stroke-width="1.15"/>
<line x1="435.74" y1="738.4" x2="435.74" y2="734.4" stroke="#1e1e1e" stroke-width="1.15"/>
<text x="435.74" y="746.7" font-size="8.3" text-anchor="middle" dominant-baseline="central" fill="#222" stroke="#222" stroke-width="0.3" transform="translate(435.74 746.7) scale(1 1.06) translate(-435.74 -746.7)">5</text>
<line x1="463.21" y1="738.4" x2="463.21" y2="736.1" stroke="#1e1e1e" stroke-width="1.15"/>
<line x1="490.68" y1="738.4" x2="490.68" y2="734.4" stroke="#1e1e1e" stroke-width="1.15"/>
<text x="490.68" y="746.7" font-size="8.3" text-anchor="middle" dominant-baseline="central" fill="#222" stroke="#222" stroke-width="0.3" transform="translate(490.68 746.7) scale(1 1.06) translate(-490.68 -746.7)">10</text>
<line x1="518.15" y1="738.4" x2="518.15" y2="736.1" stroke="#1e1e1e" stroke-width="1.15"/>
<line x1="545.62" y1="738.4" x2="545.62" y2="734.4" stroke="#1e1e1e" stroke-width="1.15"/>
<text x="545.62" y="746.7" font-size="8.3" text-anchor="middle" dominant-baseline="central" fill="#222" stroke="#222" stroke-width="0.3" transform="translate(545.62 746.7) scale(1 1.06) translate(-545.62 -746.7)">15</text>
<line x1="573.09" y1="738.4" x2="573.09" y2="736.1" stroke="#1e1e1e" stroke-width="1.15"/>
<line x1="600.56" y1="738.4" x2="600.56" y2="734.4" stroke="#1e1e1e" stroke-width="1.15"/>
<text x="600.56" y="746.7" font-size="8.3" text-anchor="middle" dominant-baseline="central" fill="#222" stroke="#222" stroke-width="0.3" transform="translate(600.56 746.7) scale(1 1.06) translate(-600.56 -746.7)">20</text>
<line x1="628.03" y1="738.4" x2="628.03" y2="736.1" stroke="#1e1e1e" stroke-width="1.15"/>
<line x1="655.5" y1="738.4" x2="655.5" y2="734.4" stroke="#1e1e1e" stroke-width="1.15"/>
<text x="655.5" y="746.7" font-size="8.3" text-anchor="middle" dominant-baseline="central" fill="#222" stroke="#222" stroke-width="0.3" transform="translate(655.5 746.7) scale(1 1.06) translate(-655.5 -746.7)">25</text>
<line x1="380.8" y1="738.4" x2="384.8" y2="738.4" stroke="#1e1e1e" stroke-width="1.15"/>
<text x="376.4" y="738.4" font-size="8.3" text-anchor="end" dominant-baseline="central" fill="#222" stroke="#222" stroke-width="0.3" transform="translate(376.4 738.4) scale(1 1.06) translate(-376.4 -738.4)">10</text>
<line x1="380.8" y1="715.71" x2="384.8" y2="715.71" stroke="#1e1e1e" stroke-width="1.15"/>
<text x="376.4" y="715.71" font-size="8.3" text-anchor="end" dominant-baseline="central" fill="#222" stroke="#222" stroke-width="0.3" transform="translate(376.4 715.71) scale(1 1.06) translate(-376.4 -715.71)">20</text>
<line x1="380.8" y1="693.02" x2="384.8" y2="693.02" stroke="#1e1e1e" stroke-width="1.15"/>
<text x="376.4" y="693.02" font-size="8.3" text-anchor="end" dominant-baseline="central" fill="#222" stroke="#222" stroke-width="0.3" transform="translate(376.4 693.02) scale(1 1.06) translate(-376.4 -693.02)">30</text>
<line x1="380.8" y1="670.33" x2="384.8" y2="670.33" stroke="#1e1e1e" stroke-width="1.15"/>
<text x="376.4" y="670.33" font-size="8.3" text-anchor="end" dominant-baseline="central" fill="#222" stroke="#222" stroke-width="0.3" transform="translate(376.4 670.33) scale(1 1.06) translate(-376.4 -670.33)">40</text>
<line x1="380.8" y1="647.64" x2="384.8" y2="647.64" stroke="#1e1e1e" stroke-width="1.15"/>
<text x="376.4" y="647.64" font-size="8.3" text-anchor="end" dominant-baseline="central" fill="#222" stroke="#222" stroke-width="0.3" transform="translate(376.4 647.64) scale(1 1.06) translate(-376.4 -647.64)">50</text>
<line x1="380.8" y1="624.95" x2="384.8" y2="624.95" stroke="#1e1e1e" stroke-width="1.15"/>
<text x="376.4" y="624.95" font-size="8.3" text-anchor="end" dominant-baseline="central" fill="#222" stroke="#222" stroke-width="0.3" transform="translate(376.4 624.95) scale(1 1.06) translate(-376.4 -624.95)">60</text>
<line x1="380.8" y1="602.27" x2="384.8" y2="602.27" stroke="#1e1e1e" stroke-width="1.15"/>
<text x="376.4" y="602.27" font-size="8.3" text-anchor="end" dominant-baseline="central" fill="#222" stroke="#222" stroke-width="0.3" transform="translate(376.4 602.27) scale(1 1.06) translate(-376.4 -602.27)">70</text>
<line x1="380.8" y1="579.58" x2="384.8" y2="579.58" stroke="#1e1e1e" stroke-width="1.15"/>
<text x="376.4" y="579.58" font-size="8.3" text-anchor="end" dominant-baseline="central" fill="#222" stroke="#222" stroke-width="0.3" transform="translate(376.4 579.58) scale(1 1.06) translate(-376.4 -579.58)">80</text>
<line x1="380.8" y1="556.89" x2="384.8" y2="556.89" stroke="#1e1e1e" stroke-width="1.15"/>
<text x="376.4" y="556.89" font-size="8.3" text-anchor="end" dominant-baseline="central" fill="#222" stroke="#222" stroke-width="0.3" transform="translate(376.4 556.89) scale(1 1.06) translate(-376.4 -556.89)">90</text>
<line x1="380.8" y1="534.2" x2="384.8" y2="534.2" stroke="#1e1e1e" stroke-width="1.15"/>
<text x="376.4" y="534.2" font-size="8.3" text-anchor="end" dominant-baseline="central" fill="#222" stroke="#222" stroke-width="0.3" transform="translate(376.4 534.2) scale(1 1.06) translate(-376.4 -534.2)">100</text>
<line x1="380.8" y1="727.06" x2="383.1" y2="727.06" stroke="#1e1e1e" stroke-width="1.15"/>
<line x1="380.8" y1="704.37" x2="383.1" y2="704.37" stroke="#1e1e1e" stroke-width="1.15"/>
<line x1="380.8" y1="681.68" x2="383.1" y2="681.68" stroke="#1e1e1e" stroke-width="1.15"/>
<line x1="380.8" y1="658.99" x2="383.1" y2="658.99" stroke="#1e1e1e" stroke-width="1.15"/>
<line x1="380.8" y1="636.3" x2="383.1" y2="636.3" stroke="#1e1e1e" stroke-width="1.15"/>
<line x1="380.8" y1="613.61" x2="383.1" y2="613.61" stroke="#1e1e1e" stroke-width="1.15"/>
<line x1="380.8" y1="590.92" x2="383.1" y2="590.92" stroke="#1e1e1e" stroke-width="1.15"/>
<line x1="380.8" y1="568.23" x2="383.1" y2="568.23" stroke="#1e1e1e" stroke-width="1.15"/>
<line x1="380.8" y1="545.54" x2="383.1" y2="545.54" stroke="#1e1e1e" stroke-width="1.15"/>
<line x1="395" y1="545.3" x2="418.3" y2="545.3" stroke="#7a7a7a" stroke-width="1.1"/>
<rect x="404.42" y="543.02" width="4.56" height="4.56" fill="#000"/>
<text x="420.8" y="545.3" font-size="8.65" text-anchor="start" dominant-baseline="central" fill="#222" stroke="#222" stroke-width="0.3" transform="translate(420.8 545.3) scale(1 1.06) translate(-420.8 -545.3)">XRF value</text>
<line x1="395" y1="557.9" x2="418.3" y2="557.9" stroke="#f05555" stroke-width="1.1"/>
<circle cx="406.7" cy="557.9" r="2.64" fill="#f00"/>
<text x="420.8" y="557.9" font-size="8.65" text-anchor="start" dominant-baseline="central" fill="#222" stroke="#222" stroke-width="0.3" transform="translate(420.8 557.9) scale(1 1.06) translate(-420.8 -557.9)">ICP-MS value</text>
<line x1="395" y1="571.3" x2="418.3" y2="571.3" stroke="#6060f0" stroke-width="1.1"/>
<path d="M406.7 568.79L409.66 573.81L403.74 573.81Z" fill="#00f"/>
<text x="420.8" y="571.3" font-size="8.65" text-anchor="start" dominant-baseline="central" fill="#222" stroke="#222" stroke-width="0.3" transform="translate(420.8 571.3) scale(1 1.06) translate(-420.8 -571.3)">Predictive value</text>
<line x1="582.7" y1="544.2" x2="639.8" y2="544.2" stroke="#222" stroke-width="1.6"/>
<path d="M642.8 544.2L636.3 542.2L637.27 544.2L636.3 546.2Z" fill="#111"/>
<text x="584.6" y="555.3" font-size="8.7" text-anchor="start" dominant-baseline="central" fill="#222" stroke="#222" stroke-width="0.3" transform="translate(584.6 555.3) scale(1 1.06) translate(-584.6 -555.3)">Prediction value</text>
<text x="345.4" y="539.45" font-size="10" text-anchor="middle" dominant-baseline="central" fill="#222" stroke="#222" stroke-width="0.3" transform="translate(345.4 539.45) scale(1 1.06) translate(-345.4 -539.45)">(f)</text>
<text x="350.9" y="643.4" font-size="10.5" text-anchor="middle" dominant-baseline="central" fill="#222" stroke="#222" stroke-width="0.3" transform="rotate(-90 350.9 643.4)">Sample Concentration (mg/L)</text>
<text x="518.5" y="762.5" font-size="10" text-anchor="middle" dominant-baseline="central" fill="#222" stroke="#222" stroke-width="0.3" transform="translate(518.5 762.5) scale(1 1.06) translate(-518.5 -762.5)">Point</text>
</g>
</svg>
</body></html>
